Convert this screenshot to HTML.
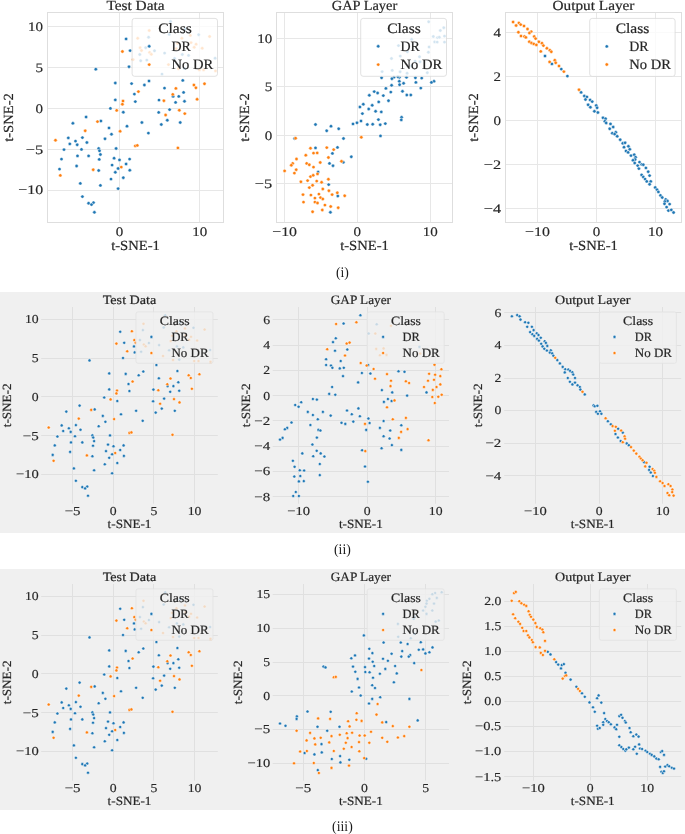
<!DOCTYPE html>
<html><head><meta charset="utf-8"><title>t-SNE</title>
<style>
html,body{margin:0;padding:0;background:#fff;}
body{width:685px;height:834px;position:relative;overflow:hidden;font-family:"Liberation Serif",serif;}
svg text{font-family:"Liberation Serif",serif;text-rendering:geometricPrecision;}
</style></head><body>
<svg width="685" height="834" viewBox="0 0 685 834" style="position:absolute;left:0;top:0;will-change:transform">
<rect x="0" y="0" width="685" height="834" fill="#ffffff"/>
<rect x="0" y="292" width="685" height="241" fill="#f0f0f0"/>
<rect x="0" y="569" width="685" height="241" fill="#f0f0f0"/>
<clipPath id="c11"><rect x="47.5" y="12.5" width="176.0" height="210.0"/></clipPath>
<rect x="47.5" y="12.5" width="176.0" height="210.0" fill="#fff"/>
<line x1="119.50" x2="119.50" y1="12.5" y2="222.5" stroke="#e7e7e7" stroke-width="1"/>
<line x1="199.50" x2="199.50" y1="12.5" y2="222.5" stroke="#e7e7e7" stroke-width="1"/>
<line x1="47.5" x2="223.5" y1="26.50" y2="26.50" stroke="#e7e7e7" stroke-width="1"/>
<line x1="47.5" x2="223.5" y1="67.50" y2="67.50" stroke="#e7e7e7" stroke-width="1"/>
<line x1="47.5" x2="223.5" y1="108.50" y2="108.50" stroke="#e7e7e7" stroke-width="1"/>
<line x1="47.5" x2="223.5" y1="149.50" y2="149.50" stroke="#e7e7e7" stroke-width="1"/>
<line x1="47.5" x2="223.5" y1="190.50" y2="190.50" stroke="#e7e7e7" stroke-width="1"/>
<g clip-path="url(#c11)" stroke="#fff" stroke-width="0.5">
<circle cx="126.1" cy="38.9" r="1.7" fill="#1f77b4"/>
<circle cx="130.1" cy="50.6" r="1.7" fill="#1f77b4"/>
<circle cx="95.8" cy="69.2" r="1.7" fill="#1f77b4"/>
<circle cx="129.0" cy="66.7" r="1.7" fill="#1f77b4"/>
<circle cx="115.3" cy="83.0" r="1.7" fill="#1f77b4"/>
<circle cx="131.6" cy="83.6" r="1.7" fill="#1f77b4"/>
<circle cx="149.0" cy="81.0" r="1.7" fill="#1f77b4"/>
<circle cx="144.4" cy="85.0" r="1.7" fill="#1f77b4"/>
<circle cx="182.8" cy="80.4" r="1.7" fill="#1f77b4"/>
<circle cx="164.5" cy="88.1" r="1.7" fill="#1f77b4"/>
<circle cx="134.4" cy="94.1" r="1.7" fill="#1f77b4"/>
<circle cx="115.3" cy="99.9" r="1.7" fill="#1f77b4"/>
<circle cx="135.3" cy="101.6" r="1.7" fill="#1f77b4"/>
<circle cx="110.4" cy="108.4" r="1.7" fill="#1f77b4"/>
<circle cx="123.3" cy="112.2" r="1.7" fill="#1f77b4"/>
<circle cx="159.0" cy="100.1" r="1.7" fill="#1f77b4"/>
<circle cx="173.1" cy="96.4" r="1.7" fill="#1f77b4"/>
<circle cx="178.8" cy="96.4" r="1.7" fill="#1f77b4"/>
<circle cx="183.6" cy="92.4" r="1.7" fill="#1f77b4"/>
<circle cx="175.6" cy="102.4" r="1.7" fill="#1f77b4"/>
<circle cx="184.5" cy="101.3" r="1.7" fill="#1f77b4"/>
<circle cx="158.7" cy="112.4" r="1.7" fill="#1f77b4"/>
<circle cx="169.6" cy="109.6" r="1.7" fill="#1f77b4"/>
<circle cx="167.3" cy="120.2" r="1.7" fill="#1f77b4"/>
<circle cx="161.3" cy="124.5" r="1.7" fill="#1f77b4"/>
<circle cx="180.2" cy="122.5" r="1.7" fill="#1f77b4"/>
<circle cx="86.1" cy="117.0" r="1.7" fill="#1f77b4"/>
<circle cx="100.9" cy="121.0" r="1.7" fill="#1f77b4"/>
<circle cx="72.9" cy="123.3" r="1.7" fill="#1f77b4"/>
<circle cx="141.9" cy="122.5" r="1.7" fill="#1f77b4"/>
<circle cx="127.0" cy="126.2" r="1.7" fill="#1f77b4"/>
<circle cx="109.0" cy="127.9" r="1.7" fill="#1f77b4"/>
<circle cx="148.4" cy="133.1" r="1.7" fill="#1f77b4"/>
<circle cx="111.5" cy="134.2" r="1.7" fill="#1f77b4"/>
<circle cx="105.0" cy="138.8" r="1.7" fill="#1f77b4"/>
<circle cx="68.3" cy="137.9" r="1.7" fill="#1f77b4"/>
<circle cx="82.4" cy="137.6" r="1.7" fill="#1f77b4"/>
<circle cx="75.5" cy="141.1" r="1.7" fill="#1f77b4"/>
<circle cx="69.8" cy="143.9" r="1.7" fill="#1f77b4"/>
<circle cx="77.2" cy="144.8" r="1.7" fill="#1f77b4"/>
<circle cx="86.9" cy="142.5" r="1.7" fill="#1f77b4"/>
<circle cx="64.0" cy="149.6" r="1.7" fill="#1f77b4"/>
<circle cx="81.5" cy="149.4" r="1.7" fill="#1f77b4"/>
<circle cx="98.7" cy="148.5" r="1.7" fill="#1f77b4"/>
<circle cx="116.1" cy="148.5" r="1.7" fill="#1f77b4"/>
<circle cx="99.5" cy="150.8" r="1.7" fill="#1f77b4"/>
<circle cx="100.4" cy="154.5" r="1.7" fill="#1f77b4"/>
<circle cx="77.5" cy="155.9" r="1.7" fill="#1f77b4"/>
<circle cx="88.6" cy="155.9" r="1.7" fill="#1f77b4"/>
<circle cx="61.5" cy="159.1" r="1.7" fill="#1f77b4"/>
<circle cx="99.2" cy="159.4" r="1.7" fill="#1f77b4"/>
<circle cx="114.1" cy="158.2" r="1.7" fill="#1f77b4"/>
<circle cx="119.5" cy="159.9" r="1.7" fill="#1f77b4"/>
<circle cx="129.6" cy="159.1" r="1.7" fill="#1f77b4"/>
<circle cx="126.1" cy="164.0" r="1.7" fill="#1f77b4"/>
<circle cx="112.1" cy="165.1" r="1.7" fill="#1f77b4"/>
<circle cx="76.6" cy="166.0" r="1.7" fill="#1f77b4"/>
<circle cx="59.5" cy="169.1" r="1.7" fill="#1f77b4"/>
<circle cx="98.7" cy="170.5" r="1.7" fill="#1f77b4"/>
<circle cx="118.1" cy="168.5" r="1.7" fill="#1f77b4"/>
<circle cx="129.8" cy="170.2" r="1.7" fill="#1f77b4"/>
<circle cx="115.3" cy="172.3" r="1.7" fill="#1f77b4"/>
<circle cx="123.3" cy="177.7" r="1.7" fill="#1f77b4"/>
<circle cx="111.0" cy="179.1" r="1.7" fill="#1f77b4"/>
<circle cx="80.3" cy="183.4" r="1.7" fill="#1f77b4"/>
<circle cx="100.4" cy="185.4" r="1.7" fill="#1f77b4"/>
<circle cx="118.1" cy="188.6" r="1.7" fill="#1f77b4"/>
<circle cx="82.4" cy="196.6" r="1.7" fill="#1f77b4"/>
<circle cx="88.6" cy="203.2" r="1.7" fill="#1f77b4"/>
<circle cx="93.5" cy="202.6" r="1.7" fill="#1f77b4"/>
<circle cx="91.5" cy="204.6" r="1.7" fill="#1f77b4"/>
<circle cx="94.4" cy="212.3" r="1.7" fill="#1f77b4"/>
<circle cx="170.6" cy="21.5" r="1.7" fill="#1f77b4"/>
<circle cx="185.4" cy="28.8" r="1.7" fill="#1f77b4"/>
<circle cx="169.2" cy="34.4" r="1.7" fill="#1f77b4"/>
<circle cx="148.6" cy="37.2" r="1.7" fill="#1f77b4"/>
<circle cx="198.7" cy="34.7" r="1.7" fill="#1f77b4"/>
<circle cx="145.7" cy="47.7" r="1.7" fill="#1f77b4"/>
<circle cx="139.8" cy="54.5" r="1.7" fill="#1f77b4"/>
<circle cx="154.5" cy="50.8" r="1.7" fill="#1f77b4"/>
<circle cx="164.6" cy="53.1" r="1.7" fill="#1f77b4"/>
<circle cx="182.3" cy="54.5" r="1.7" fill="#1f77b4"/>
<circle cx="188.6" cy="55.4" r="1.7" fill="#1f77b4"/>
<circle cx="174.6" cy="58.5" r="1.7" fill="#1f77b4"/>
<circle cx="140.7" cy="60.8" r="1.7" fill="#1f77b4"/>
<circle cx="146.8" cy="60.1" r="1.7" fill="#1f77b4"/>
<circle cx="215.1" cy="58.2" r="1.7" fill="#1f77b4"/>
<circle cx="162.0" cy="74.1" r="1.7" fill="#1f77b4"/>
<circle cx="184.5" cy="68.4" r="1.7" fill="#1f77b4"/>
<circle cx="122.4" cy="51.5" r="1.7" fill="#ff7f0e"/>
<circle cx="138.4" cy="91.6" r="1.7" fill="#ff7f0e"/>
<circle cx="123.0" cy="101.0" r="1.7" fill="#ff7f0e"/>
<circle cx="122.4" cy="104.2" r="1.7" fill="#ff7f0e"/>
<circle cx="116.7" cy="110.4" r="1.7" fill="#ff7f0e"/>
<circle cx="97.5" cy="121.6" r="1.7" fill="#ff7f0e"/>
<circle cx="85.2" cy="130.8" r="1.7" fill="#ff7f0e"/>
<circle cx="120.1" cy="131.3" r="1.7" fill="#ff7f0e"/>
<circle cx="55.5" cy="140.2" r="1.7" fill="#ff7f0e"/>
<circle cx="135.3" cy="145.9" r="1.7" fill="#ff7f0e"/>
<circle cx="137.3" cy="145.4" r="1.7" fill="#ff7f0e"/>
<circle cx="177.9" cy="147.9" r="1.7" fill="#ff7f0e"/>
<circle cx="121.3" cy="167.1" r="1.7" fill="#ff7f0e"/>
<circle cx="93.2" cy="169.7" r="1.7" fill="#ff7f0e"/>
<circle cx="60.3" cy="175.4" r="1.7" fill="#ff7f0e"/>
<circle cx="175.9" cy="88.4" r="1.7" fill="#ff7f0e"/>
<circle cx="172.8" cy="94.4" r="1.7" fill="#ff7f0e"/>
<circle cx="193.9" cy="85.0" r="1.7" fill="#ff7f0e"/>
<circle cx="195.9" cy="87.8" r="1.7" fill="#ff7f0e"/>
<circle cx="204.5" cy="83.8" r="1.7" fill="#ff7f0e"/>
<circle cx="197.1" cy="99.3" r="1.7" fill="#ff7f0e"/>
<circle cx="163.9" cy="100.7" r="1.7" fill="#ff7f0e"/>
<circle cx="179.3" cy="110.2" r="1.7" fill="#ff7f0e"/>
<circle cx="184.8" cy="113.6" r="1.7" fill="#ff7f0e"/>
<circle cx="165.6" cy="115.0" r="1.7" fill="#ff7f0e"/>
<circle cx="149.2" cy="30.5" r="1.7" fill="#ff7f0e"/>
<circle cx="137.7" cy="38.3" r="1.7" fill="#ff7f0e"/>
<circle cx="140.1" cy="47.7" r="1.7" fill="#ff7f0e"/>
<circle cx="141.5" cy="50.5" r="1.7" fill="#ff7f0e"/>
<circle cx="149.6" cy="52.4" r="1.7" fill="#ff7f0e"/>
<circle cx="151.3" cy="54.3" r="1.7" fill="#ff7f0e"/>
<circle cx="133.1" cy="59.6" r="1.7" fill="#ff7f0e"/>
<circle cx="168.5" cy="64.6" r="1.7" fill="#ff7f0e"/>
<circle cx="178.4" cy="68.8" r="1.7" fill="#ff7f0e"/>
<circle cx="181.9" cy="38.3" r="1.7" fill="#ff7f0e"/>
<circle cx="190.3" cy="35.4" r="1.7" fill="#ff7f0e"/>
<circle cx="191.0" cy="42.6" r="1.7" fill="#ff7f0e"/>
<circle cx="196.1" cy="44.2" r="1.7" fill="#ff7f0e"/>
<circle cx="194.2" cy="47.3" r="1.7" fill="#ff7f0e"/>
<circle cx="202.2" cy="48.2" r="1.7" fill="#ff7f0e"/>
<circle cx="209.6" cy="36.5" r="1.7" fill="#ff7f0e"/>
<circle cx="199.4" cy="69.9" r="1.7" fill="#ff7f0e"/>
<circle cx="203.6" cy="69.9" r="1.7" fill="#ff7f0e"/>
<circle cx="215.5" cy="70.9" r="1.7" fill="#ff7f0e"/>
<circle cx="176.1" cy="48.7" r="1.7" fill="#ff7f0e"/>
<circle cx="177.5" cy="43.2" r="1.7" fill="#ff7f0e"/>
</g>
<rect x="47.5" y="12.5" width="176.0" height="210.0" fill="none" stroke="#dedede" stroke-width="1"/>
<rect x="132.1" y="18.4" width="85.4" height="57.9" rx="2.5" fill="#ffffff" fill-opacity="0.8" stroke="#d9d9d9" stroke-opacity="0.8" stroke-width="1"/>
<circle cx="149.2" cy="46.3" r="1.7" fill="#1f77b4" stroke="#fff" stroke-width="0.5"/>
<circle cx="149.2" cy="64.6" r="1.7" fill="#ff7f0e" stroke="#fff" stroke-width="0.5"/>
<text transform="translate(175.00,32.80)" x="-16.85" y="0" textLength="33.71" lengthAdjust="spacingAndGlyphs" font-size="14.32" fill="#262626" stroke="#262626" stroke-width="0.2">Class</text>
<text transform="translate(171.50,50.60)" x="0.00" y="0" textLength="19.36" lengthAdjust="spacingAndGlyphs" font-size="14.32" fill="#262626" stroke="#262626" stroke-width="0.2">DR</text>
<text transform="translate(171.50,68.90)" x="0.00" y="0" textLength="41.70" lengthAdjust="spacingAndGlyphs" font-size="14.32" fill="#262626" stroke="#262626" stroke-width="0.2">No DR</text>
<text transform="translate(119.40,235.50)" x="-3.75" y="0" textLength="7.51" lengthAdjust="spacingAndGlyphs" font-size="13.00" fill="#262626" stroke="#262626" stroke-width="0.15">0</text>
<text transform="translate(199.70,235.50)" x="-7.51" y="0" textLength="15.02" lengthAdjust="spacingAndGlyphs" font-size="13.00" fill="#262626" stroke="#262626" stroke-width="0.15">10</text>
<text transform="translate(43.10,30.70)" x="-15.02" y="0" textLength="15.02" lengthAdjust="spacingAndGlyphs" font-size="13.00" fill="#262626" stroke="#262626" stroke-width="0.15">10</text>
<text transform="translate(43.10,71.90)" x="-7.51" y="0" textLength="7.51" lengthAdjust="spacingAndGlyphs" font-size="13.00" fill="#262626" stroke="#262626" stroke-width="0.15">5</text>
<text transform="translate(43.10,112.80)" x="-7.51" y="0" textLength="7.51" lengthAdjust="spacingAndGlyphs" font-size="13.00" fill="#262626" stroke="#262626" stroke-width="0.15">0</text>
<text transform="translate(43.10,153.80)" x="-17.40" y="0" textLength="17.40" lengthAdjust="spacingAndGlyphs" font-size="13.00" fill="#262626" stroke="#262626" stroke-width="0.15">−5</text>
<text transform="translate(43.10,194.40)" x="-24.90" y="0" textLength="24.90" lengthAdjust="spacingAndGlyphs" font-size="13.00" fill="#262626" stroke="#262626" stroke-width="0.15">−10</text>
<text transform="translate(135.50,249.60)" x="-24.34" y="0" textLength="48.67" lengthAdjust="spacingAndGlyphs" font-size="13.91" fill="#262626" stroke="#262626" stroke-width="0.2">t-SNE-1</text>
<text transform="translate(12.90,117.50) rotate(-90)" x="-24.34" y="0" textLength="48.67" lengthAdjust="spacingAndGlyphs" font-size="13.91" fill="#262626" stroke="#262626" stroke-width="0.2">t-SNE-2</text>
<text transform="translate(135.50,9.70)" x="-29.10" y="0" textLength="58.20" lengthAdjust="spacingAndGlyphs" font-size="13.91" fill="#262626" stroke="#262626" stroke-width="0.2">Test Data</text>
<clipPath id="c12"><rect x="276.5" y="12.5" width="176.0" height="210.0"/></clipPath>
<rect x="276.5" y="12.5" width="176.0" height="210.0" fill="#fff"/>
<line x1="284.50" x2="284.50" y1="12.5" y2="222.5" stroke="#e7e7e7" stroke-width="1"/>
<line x1="357.50" x2="357.50" y1="12.5" y2="222.5" stroke="#e7e7e7" stroke-width="1"/>
<line x1="430.50" x2="430.50" y1="12.5" y2="222.5" stroke="#e7e7e7" stroke-width="1"/>
<line x1="276.5" x2="452.5" y1="38.50" y2="38.50" stroke="#e7e7e7" stroke-width="1"/>
<line x1="276.5" x2="452.5" y1="86.50" y2="86.50" stroke="#e7e7e7" stroke-width="1"/>
<line x1="276.5" x2="452.5" y1="135.50" y2="135.50" stroke="#e7e7e7" stroke-width="1"/>
<line x1="276.5" x2="452.5" y1="183.50" y2="183.50" stroke="#e7e7e7" stroke-width="1"/>
<g clip-path="url(#c12)" stroke="#fff" stroke-width="0.5">
<circle cx="434.0" cy="81.3" r="1.7" fill="#1f77b4"/>
<circle cx="431.4" cy="82.4" r="1.7" fill="#1f77b4"/>
<circle cx="421.7" cy="78.1" r="1.7" fill="#1f77b4"/>
<circle cx="415.4" cy="77.8" r="1.7" fill="#1f77b4"/>
<circle cx="406.5" cy="77.3" r="1.7" fill="#1f77b4"/>
<circle cx="399.3" cy="77.3" r="1.7" fill="#1f77b4"/>
<circle cx="397.9" cy="76.7" r="1.7" fill="#1f77b4"/>
<circle cx="393.9" cy="77.3" r="1.7" fill="#1f77b4"/>
<circle cx="391.9" cy="78.7" r="1.7" fill="#1f77b4"/>
<circle cx="381.6" cy="77.8" r="1.7" fill="#1f77b4"/>
<circle cx="415.9" cy="82.4" r="1.7" fill="#1f77b4"/>
<circle cx="420.8" cy="88.1" r="1.7" fill="#1f77b4"/>
<circle cx="399.3" cy="81.3" r="1.7" fill="#1f77b4"/>
<circle cx="399.6" cy="84.7" r="1.7" fill="#1f77b4"/>
<circle cx="403.6" cy="83.3" r="1.7" fill="#1f77b4"/>
<circle cx="391.6" cy="85.3" r="1.7" fill="#1f77b4"/>
<circle cx="385.9" cy="88.4" r="1.7" fill="#1f77b4"/>
<circle cx="374.2" cy="91.6" r="1.7" fill="#1f77b4"/>
<circle cx="377.6" cy="93.0" r="1.7" fill="#1f77b4"/>
<circle cx="369.3" cy="95.3" r="1.7" fill="#1f77b4"/>
<circle cx="390.8" cy="92.1" r="1.7" fill="#1f77b4"/>
<circle cx="402.5" cy="91.3" r="1.7" fill="#1f77b4"/>
<circle cx="406.8" cy="95.0" r="1.7" fill="#1f77b4"/>
<circle cx="410.8" cy="95.0" r="1.7" fill="#1f77b4"/>
<circle cx="383.3" cy="95.6" r="1.7" fill="#1f77b4"/>
<circle cx="388.5" cy="100.7" r="1.7" fill="#1f77b4"/>
<circle cx="378.7" cy="101.9" r="1.7" fill="#1f77b4"/>
<circle cx="363.3" cy="104.2" r="1.7" fill="#1f77b4"/>
<circle cx="359.9" cy="107.0" r="1.7" fill="#1f77b4"/>
<circle cx="372.2" cy="105.3" r="1.7" fill="#1f77b4"/>
<circle cx="368.7" cy="109.0" r="1.7" fill="#1f77b4"/>
<circle cx="362.4" cy="113.6" r="1.7" fill="#1f77b4"/>
<circle cx="375.6" cy="111.3" r="1.7" fill="#1f77b4"/>
<circle cx="381.3" cy="111.9" r="1.7" fill="#1f77b4"/>
<circle cx="378.4" cy="119.6" r="1.7" fill="#1f77b4"/>
<circle cx="401.6" cy="117.3" r="1.7" fill="#1f77b4"/>
<circle cx="401.3" cy="119.9" r="1.7" fill="#1f77b4"/>
<circle cx="353.0" cy="123.9" r="1.7" fill="#1f77b4"/>
<circle cx="357.0" cy="122.8" r="1.7" fill="#1f77b4"/>
<circle cx="361.0" cy="121.0" r="1.7" fill="#1f77b4"/>
<circle cx="367.3" cy="124.5" r="1.7" fill="#1f77b4"/>
<circle cx="372.7" cy="124.2" r="1.7" fill="#1f77b4"/>
<circle cx="380.2" cy="124.8" r="1.7" fill="#1f77b4"/>
<circle cx="385.3" cy="123.6" r="1.7" fill="#1f77b4"/>
<circle cx="315.5" cy="124.5" r="1.7" fill="#1f77b4"/>
<circle cx="331.0" cy="126.2" r="1.7" fill="#1f77b4"/>
<circle cx="338.7" cy="128.8" r="1.7" fill="#1f77b4"/>
<circle cx="326.7" cy="130.8" r="1.7" fill="#1f77b4"/>
<circle cx="380.5" cy="135.9" r="1.7" fill="#1f77b4"/>
<circle cx="343.5" cy="138.5" r="1.7" fill="#1f77b4"/>
<circle cx="294.6" cy="138.5" r="1.7" fill="#1f77b4"/>
<circle cx="315.5" cy="147.9" r="1.7" fill="#1f77b4"/>
<circle cx="337.5" cy="147.4" r="1.7" fill="#1f77b4"/>
<circle cx="332.4" cy="153.4" r="1.7" fill="#1f77b4"/>
<circle cx="351.3" cy="156.8" r="1.7" fill="#1f77b4"/>
<circle cx="343.3" cy="162.2" r="1.7" fill="#1f77b4"/>
<circle cx="329.5" cy="163.4" r="1.7" fill="#1f77b4"/>
<circle cx="333.0" cy="165.7" r="1.7" fill="#1f77b4"/>
<circle cx="318.1" cy="172.0" r="1.7" fill="#1f77b4"/>
<circle cx="328.7" cy="184.6" r="1.7" fill="#1f77b4"/>
<circle cx="337.8" cy="196.0" r="1.7" fill="#1f77b4"/>
<circle cx="330.4" cy="212.3" r="1.7" fill="#1f77b4"/>
<circle cx="428.7" cy="21.8" r="1.7" fill="#1f77b4"/>
<circle cx="443.8" cy="27.7" r="1.7" fill="#1f77b4"/>
<circle cx="440.3" cy="30.5" r="1.7" fill="#1f77b4"/>
<circle cx="433.3" cy="36.5" r="1.7" fill="#1f77b4"/>
<circle cx="437.5" cy="37.6" r="1.7" fill="#1f77b4"/>
<circle cx="439.3" cy="37.2" r="1.7" fill="#1f77b4"/>
<circle cx="444.5" cy="36.1" r="1.7" fill="#1f77b4"/>
<circle cx="434.7" cy="41.9" r="1.7" fill="#1f77b4"/>
<circle cx="437.2" cy="42.1" r="1.7" fill="#1f77b4"/>
<circle cx="444.5" cy="42.1" r="1.7" fill="#1f77b4"/>
<circle cx="411.6" cy="39.3" r="1.7" fill="#1f77b4"/>
<circle cx="398.5" cy="45.6" r="1.7" fill="#1f77b4"/>
<circle cx="429.1" cy="47.0" r="1.7" fill="#1f77b4"/>
<circle cx="407.4" cy="51.7" r="1.7" fill="#1f77b4"/>
<circle cx="428.4" cy="52.2" r="1.7" fill="#1f77b4"/>
<circle cx="400.3" cy="56.1" r="1.7" fill="#1f77b4"/>
<circle cx="419.5" cy="56.8" r="1.7" fill="#1f77b4"/>
<circle cx="391.5" cy="58.5" r="1.7" fill="#1f77b4"/>
<circle cx="415.1" cy="61.1" r="1.7" fill="#1f77b4"/>
<circle cx="420.0" cy="61.8" r="1.7" fill="#1f77b4"/>
<circle cx="411.6" cy="66.0" r="1.7" fill="#1f77b4"/>
<circle cx="392.2" cy="70.4" r="1.7" fill="#1f77b4"/>
<circle cx="382.1" cy="71.6" r="1.7" fill="#1f77b4"/>
<circle cx="400.1" cy="71.8" r="1.7" fill="#1f77b4"/>
<circle cx="407.1" cy="73.2" r="1.7" fill="#1f77b4"/>
<circle cx="427.3" cy="72.7" r="1.7" fill="#1f77b4"/>
<circle cx="295.6" cy="138.2" r="1.7" fill="#ff7f0e"/>
<circle cx="361.3" cy="137.3" r="1.7" fill="#ff7f0e"/>
<circle cx="310.5" cy="148.2" r="1.7" fill="#ff7f0e"/>
<circle cx="326.8" cy="147.6" r="1.7" fill="#ff7f0e"/>
<circle cx="333.7" cy="149.6" r="1.7" fill="#ff7f0e"/>
<circle cx="305.8" cy="155.2" r="1.7" fill="#ff7f0e"/>
<circle cx="313.5" cy="153.1" r="1.7" fill="#ff7f0e"/>
<circle cx="317.2" cy="152.9" r="1.7" fill="#ff7f0e"/>
<circle cx="328.4" cy="157.5" r="1.7" fill="#ff7f0e"/>
<circle cx="296.5" cy="159.0" r="1.7" fill="#ff7f0e"/>
<circle cx="292.7" cy="163.4" r="1.7" fill="#ff7f0e"/>
<circle cx="291.3" cy="165.2" r="1.7" fill="#ff7f0e"/>
<circle cx="306.7" cy="163.4" r="1.7" fill="#ff7f0e"/>
<circle cx="309.3" cy="164.8" r="1.7" fill="#ff7f0e"/>
<circle cx="320.2" cy="162.5" r="1.7" fill="#ff7f0e"/>
<circle cx="313.5" cy="167.1" r="1.7" fill="#ff7f0e"/>
<circle cx="341.5" cy="161.3" r="1.7" fill="#ff7f0e"/>
<circle cx="284.6" cy="170.9" r="1.7" fill="#ff7f0e"/>
<circle cx="296.2" cy="169.7" r="1.7" fill="#ff7f0e"/>
<circle cx="294.4" cy="173.1" r="1.7" fill="#ff7f0e"/>
<circle cx="317.5" cy="173.9" r="1.7" fill="#ff7f0e"/>
<circle cx="310.5" cy="176.6" r="1.7" fill="#ff7f0e"/>
<circle cx="313.2" cy="175.3" r="1.7" fill="#ff7f0e"/>
<circle cx="328.4" cy="179.2" r="1.7" fill="#ff7f0e"/>
<circle cx="300.9" cy="181.8" r="1.7" fill="#ff7f0e"/>
<circle cx="307.6" cy="180.6" r="1.7" fill="#ff7f0e"/>
<circle cx="316.7" cy="181.1" r="1.7" fill="#ff7f0e"/>
<circle cx="321.6" cy="182.3" r="1.7" fill="#ff7f0e"/>
<circle cx="312.6" cy="185.3" r="1.7" fill="#ff7f0e"/>
<circle cx="309.3" cy="187.6" r="1.7" fill="#ff7f0e"/>
<circle cx="322.8" cy="189.0" r="1.7" fill="#ff7f0e"/>
<circle cx="328.9" cy="190.7" r="1.7" fill="#ff7f0e"/>
<circle cx="303.0" cy="194.6" r="1.7" fill="#ff7f0e"/>
<circle cx="310.9" cy="195.1" r="1.7" fill="#ff7f0e"/>
<circle cx="318.9" cy="194.1" r="1.7" fill="#ff7f0e"/>
<circle cx="332.1" cy="194.6" r="1.7" fill="#ff7f0e"/>
<circle cx="337.3" cy="192.8" r="1.7" fill="#ff7f0e"/>
<circle cx="344.7" cy="195.8" r="1.7" fill="#ff7f0e"/>
<circle cx="314.9" cy="198.1" r="1.7" fill="#ff7f0e"/>
<circle cx="320.5" cy="197.6" r="1.7" fill="#ff7f0e"/>
<circle cx="322.8" cy="199.0" r="1.7" fill="#ff7f0e"/>
<circle cx="303.5" cy="202.1" r="1.7" fill="#ff7f0e"/>
<circle cx="314.9" cy="202.1" r="1.7" fill="#ff7f0e"/>
<circle cx="317.5" cy="203.0" r="1.7" fill="#ff7f0e"/>
<circle cx="324.9" cy="205.1" r="1.7" fill="#ff7f0e"/>
<circle cx="330.7" cy="206.5" r="1.7" fill="#ff7f0e"/>
<circle cx="338.2" cy="207.7" r="1.7" fill="#ff7f0e"/>
<circle cx="312.6" cy="211.8" r="1.7" fill="#ff7f0e"/>
<circle cx="322.3" cy="210.0" r="1.7" fill="#ff7f0e"/>
</g>
<rect x="276.5" y="12.5" width="176.0" height="210.0" fill="none" stroke="#dedede" stroke-width="1"/>
<rect x="360.7" y="18.4" width="85.80000000000001" height="57.9" rx="2.5" fill="#ffffff" fill-opacity="0.8" stroke="#d9d9d9" stroke-opacity="0.8" stroke-width="1"/>
<circle cx="378.2" cy="46.3" r="1.7" fill="#1f77b4" stroke="#fff" stroke-width="0.5"/>
<circle cx="378.2" cy="64.6" r="1.7" fill="#ff7f0e" stroke="#fff" stroke-width="0.5"/>
<text transform="translate(404.00,32.80)" x="-16.85" y="0" textLength="33.71" lengthAdjust="spacingAndGlyphs" font-size="14.32" fill="#262626" stroke="#262626" stroke-width="0.2">Class</text>
<text transform="translate(400.50,50.60)" x="0.00" y="0" textLength="19.36" lengthAdjust="spacingAndGlyphs" font-size="14.32" fill="#262626" stroke="#262626" stroke-width="0.2">DR</text>
<text transform="translate(400.50,68.90)" x="0.00" y="0" textLength="41.70" lengthAdjust="spacingAndGlyphs" font-size="14.32" fill="#262626" stroke="#262626" stroke-width="0.2">No DR</text>
<text transform="translate(284.60,235.50)" x="-12.45" y="0" textLength="24.90" lengthAdjust="spacingAndGlyphs" font-size="13.00" fill="#262626" stroke="#262626" stroke-width="0.15">−10</text>
<text transform="translate(357.30,235.50)" x="-3.75" y="0" textLength="7.51" lengthAdjust="spacingAndGlyphs" font-size="13.00" fill="#262626" stroke="#262626" stroke-width="0.15">0</text>
<text transform="translate(430.20,235.50)" x="-7.51" y="0" textLength="15.02" lengthAdjust="spacingAndGlyphs" font-size="13.00" fill="#262626" stroke="#262626" stroke-width="0.15">10</text>
<text transform="translate(272.20,42.50)" x="-15.02" y="0" textLength="15.02" lengthAdjust="spacingAndGlyphs" font-size="13.00" fill="#262626" stroke="#262626" stroke-width="0.15">10</text>
<text transform="translate(272.20,90.80)" x="-7.51" y="0" textLength="7.51" lengthAdjust="spacingAndGlyphs" font-size="13.00" fill="#262626" stroke="#262626" stroke-width="0.15">5</text>
<text transform="translate(272.20,139.50)" x="-7.51" y="0" textLength="7.51" lengthAdjust="spacingAndGlyphs" font-size="13.00" fill="#262626" stroke="#262626" stroke-width="0.15">0</text>
<text transform="translate(272.20,187.80)" x="-17.40" y="0" textLength="17.40" lengthAdjust="spacingAndGlyphs" font-size="13.00" fill="#262626" stroke="#262626" stroke-width="0.15">−5</text>
<text transform="translate(364.50,249.60)" x="-24.34" y="0" textLength="48.67" lengthAdjust="spacingAndGlyphs" font-size="13.91" fill="#262626" stroke="#262626" stroke-width="0.2">t-SNE-1</text>
<text transform="translate(249.40,117.50) rotate(-90)" x="-24.34" y="0" textLength="48.67" lengthAdjust="spacingAndGlyphs" font-size="13.91" fill="#262626" stroke="#262626" stroke-width="0.2">t-SNE-2</text>
<text transform="translate(364.50,9.70)" x="-32.71" y="0" textLength="65.42" lengthAdjust="spacingAndGlyphs" font-size="13.91" fill="#262626" stroke="#262626" stroke-width="0.2">GAP Layer</text>
<clipPath id="c13"><rect x="505.5" y="12.5" width="176.0" height="210.0"/></clipPath>
<rect x="505.5" y="12.5" width="176.0" height="210.0" fill="#fff"/>
<line x1="537.50" x2="537.50" y1="12.5" y2="222.5" stroke="#e7e7e7" stroke-width="1"/>
<line x1="596.50" x2="596.50" y1="12.5" y2="222.5" stroke="#e7e7e7" stroke-width="1"/>
<line x1="655.50" x2="655.50" y1="12.5" y2="222.5" stroke="#e7e7e7" stroke-width="1"/>
<line x1="505.5" x2="681.5" y1="32.50" y2="32.50" stroke="#e7e7e7" stroke-width="1"/>
<line x1="505.5" x2="681.5" y1="76.50" y2="76.50" stroke="#e7e7e7" stroke-width="1"/>
<line x1="505.5" x2="681.5" y1="120.50" y2="120.50" stroke="#e7e7e7" stroke-width="1"/>
<line x1="505.5" x2="681.5" y1="164.50" y2="164.50" stroke="#e7e7e7" stroke-width="1"/>
<line x1="505.5" x2="681.5" y1="208.50" y2="208.50" stroke="#e7e7e7" stroke-width="1"/>
<g clip-path="url(#c13)" stroke="#fff" stroke-width="0.5">
<circle cx="545.0" cy="56.0" r="1.7" fill="#1f77b4"/>
<circle cx="551.9" cy="63.9" r="1.7" fill="#1f77b4"/>
<circle cx="561.3" cy="69.1" r="1.7" fill="#1f77b4"/>
<circle cx="567.4" cy="76.1" r="1.7" fill="#1f77b4"/>
<circle cx="581.1" cy="92.4" r="1.7" fill="#1f77b4"/>
<circle cx="584.3" cy="96.0" r="1.7" fill="#1f77b4"/>
<circle cx="586.9" cy="96.9" r="1.7" fill="#1f77b4"/>
<circle cx="585.5" cy="99.5" r="1.7" fill="#1f77b4"/>
<circle cx="590.1" cy="99.9" r="1.7" fill="#1f77b4"/>
<circle cx="592.2" cy="101.6" r="1.7" fill="#1f77b4"/>
<circle cx="588.1" cy="104.8" r="1.7" fill="#1f77b4"/>
<circle cx="590.4" cy="107.2" r="1.7" fill="#1f77b4"/>
<circle cx="596.2" cy="105.5" r="1.7" fill="#1f77b4"/>
<circle cx="597.1" cy="107.8" r="1.7" fill="#1f77b4"/>
<circle cx="594.4" cy="111.3" r="1.7" fill="#1f77b4"/>
<circle cx="597.9" cy="112.5" r="1.7" fill="#1f77b4"/>
<circle cx="603.0" cy="117.8" r="1.7" fill="#1f77b4"/>
<circle cx="605.6" cy="118.8" r="1.7" fill="#1f77b4"/>
<circle cx="604.9" cy="121.3" r="1.7" fill="#1f77b4"/>
<circle cx="606.2" cy="123.0" r="1.7" fill="#1f77b4"/>
<circle cx="610.5" cy="123.9" r="1.7" fill="#1f77b4"/>
<circle cx="613.2" cy="127.0" r="1.7" fill="#1f77b4"/>
<circle cx="609.7" cy="128.8" r="1.7" fill="#1f77b4"/>
<circle cx="612.3" cy="133.2" r="1.7" fill="#1f77b4"/>
<circle cx="615.8" cy="132.3" r="1.7" fill="#1f77b4"/>
<circle cx="614.6" cy="134.1" r="1.7" fill="#1f77b4"/>
<circle cx="617.2" cy="136.3" r="1.7" fill="#1f77b4"/>
<circle cx="620.2" cy="139.7" r="1.7" fill="#1f77b4"/>
<circle cx="622.8" cy="143.3" r="1.7" fill="#1f77b4"/>
<circle cx="625.1" cy="142.8" r="1.7" fill="#1f77b4"/>
<circle cx="624.0" cy="147.2" r="1.7" fill="#1f77b4"/>
<circle cx="628.4" cy="146.3" r="1.7" fill="#1f77b4"/>
<circle cx="629.8" cy="149.3" r="1.7" fill="#1f77b4"/>
<circle cx="626.0" cy="151.0" r="1.7" fill="#1f77b4"/>
<circle cx="628.1" cy="152.4" r="1.7" fill="#1f77b4"/>
<circle cx="631.0" cy="155.6" r="1.7" fill="#1f77b4"/>
<circle cx="634.2" cy="154.7" r="1.7" fill="#1f77b4"/>
<circle cx="635.6" cy="157.2" r="1.7" fill="#1f77b4"/>
<circle cx="635.1" cy="159.5" r="1.7" fill="#1f77b4"/>
<circle cx="633.0" cy="160.3" r="1.7" fill="#1f77b4"/>
<circle cx="634.7" cy="163.0" r="1.7" fill="#1f77b4"/>
<circle cx="639.5" cy="162.1" r="1.7" fill="#1f77b4"/>
<circle cx="641.7" cy="164.4" r="1.7" fill="#1f77b4"/>
<circle cx="643.3" cy="164.7" r="1.7" fill="#1f77b4"/>
<circle cx="637.7" cy="165.6" r="1.7" fill="#1f77b4"/>
<circle cx="638.9" cy="168.6" r="1.7" fill="#1f77b4"/>
<circle cx="645.9" cy="167.9" r="1.7" fill="#1f77b4"/>
<circle cx="648.2" cy="171.7" r="1.7" fill="#1f77b4"/>
<circle cx="649.6" cy="175.6" r="1.7" fill="#1f77b4"/>
<circle cx="641.6" cy="174.9" r="1.7" fill="#1f77b4"/>
<circle cx="643.3" cy="177.0" r="1.7" fill="#1f77b4"/>
<circle cx="645.1" cy="179.1" r="1.7" fill="#1f77b4"/>
<circle cx="646.8" cy="181.4" r="1.7" fill="#1f77b4"/>
<circle cx="650.8" cy="181.4" r="1.7" fill="#1f77b4"/>
<circle cx="649.6" cy="184.3" r="1.7" fill="#1f77b4"/>
<circle cx="655.2" cy="187.5" r="1.7" fill="#1f77b4"/>
<circle cx="657.0" cy="189.6" r="1.7" fill="#1f77b4"/>
<circle cx="658.4" cy="191.9" r="1.7" fill="#1f77b4"/>
<circle cx="660.5" cy="195.4" r="1.7" fill="#1f77b4"/>
<circle cx="662.2" cy="197.5" r="1.7" fill="#1f77b4"/>
<circle cx="665.7" cy="199.4" r="1.7" fill="#1f77b4"/>
<circle cx="667.5" cy="201.0" r="1.7" fill="#1f77b4"/>
<circle cx="664.9" cy="201.5" r="1.7" fill="#1f77b4"/>
<circle cx="664.5" cy="203.8" r="1.7" fill="#1f77b4"/>
<circle cx="669.6" cy="204.1" r="1.7" fill="#1f77b4"/>
<circle cx="666.6" cy="207.1" r="1.7" fill="#1f77b4"/>
<circle cx="668.4" cy="210.6" r="1.7" fill="#1f77b4"/>
<circle cx="671.3" cy="209.9" r="1.7" fill="#1f77b4"/>
<circle cx="673.6" cy="212.5" r="1.7" fill="#1f77b4"/>
<circle cx="513.1" cy="22.0" r="1.7" fill="#ff7f0e"/>
<circle cx="516.1" cy="25.5" r="1.7" fill="#ff7f0e"/>
<circle cx="518.9" cy="22.9" r="1.7" fill="#ff7f0e"/>
<circle cx="520.7" cy="24.6" r="1.7" fill="#ff7f0e"/>
<circle cx="524.0" cy="26.0" r="1.7" fill="#ff7f0e"/>
<circle cx="527.5" cy="29.0" r="1.7" fill="#ff7f0e"/>
<circle cx="531.2" cy="31.6" r="1.7" fill="#ff7f0e"/>
<circle cx="529.4" cy="33.0" r="1.7" fill="#ff7f0e"/>
<circle cx="534.2" cy="36.5" r="1.7" fill="#ff7f0e"/>
<circle cx="535.6" cy="38.6" r="1.7" fill="#ff7f0e"/>
<circle cx="538.9" cy="41.8" r="1.7" fill="#ff7f0e"/>
<circle cx="542.0" cy="43.2" r="1.7" fill="#ff7f0e"/>
<circle cx="543.4" cy="45.6" r="1.7" fill="#ff7f0e"/>
<circle cx="546.9" cy="48.3" r="1.7" fill="#ff7f0e"/>
<circle cx="549.9" cy="50.2" r="1.7" fill="#ff7f0e"/>
<circle cx="551.3" cy="51.8" r="1.7" fill="#ff7f0e"/>
<circle cx="518.4" cy="32.2" r="1.7" fill="#ff7f0e"/>
<circle cx="521.0" cy="36.0" r="1.7" fill="#ff7f0e"/>
<circle cx="524.5" cy="36.5" r="1.7" fill="#ff7f0e"/>
<circle cx="525.9" cy="37.4" r="1.7" fill="#ff7f0e"/>
<circle cx="529.3" cy="41.8" r="1.7" fill="#ff7f0e"/>
<circle cx="531.5" cy="43.0" r="1.7" fill="#ff7f0e"/>
<circle cx="533.8" cy="43.9" r="1.7" fill="#ff7f0e"/>
<circle cx="536.4" cy="44.9" r="1.7" fill="#ff7f0e"/>
<circle cx="540.8" cy="51.4" r="1.7" fill="#ff7f0e"/>
<circle cx="549.6" cy="61.9" r="1.7" fill="#ff7f0e"/>
<circle cx="554.8" cy="60.2" r="1.7" fill="#ff7f0e"/>
<circle cx="555.7" cy="62.8" r="1.7" fill="#ff7f0e"/>
<circle cx="559.0" cy="66.0" r="1.7" fill="#ff7f0e"/>
<circle cx="563.9" cy="71.6" r="1.7" fill="#ff7f0e"/>
<circle cx="579.0" cy="89.7" r="1.7" fill="#ff7f0e"/>
</g>
<rect x="505.5" y="12.5" width="176.0" height="210.0" fill="none" stroke="#dedede" stroke-width="1"/>
<rect x="589.7" y="18.4" width="85.39999999999998" height="58.00000000000001" rx="2.5" fill="#ffffff" fill-opacity="0.8" stroke="#d9d9d9" stroke-opacity="0.8" stroke-width="1"/>
<circle cx="606.8" cy="46.4" r="1.7" fill="#1f77b4" stroke="#fff" stroke-width="0.5"/>
<circle cx="606.8" cy="64.5" r="1.7" fill="#ff7f0e" stroke="#fff" stroke-width="0.5"/>
<text transform="translate(632.50,32.80)" x="-16.85" y="0" textLength="33.71" lengthAdjust="spacingAndGlyphs" font-size="14.32" fill="#262626" stroke="#262626" stroke-width="0.2">Class</text>
<text transform="translate(629.30,50.60)" x="0.00" y="0" textLength="19.36" lengthAdjust="spacingAndGlyphs" font-size="14.32" fill="#262626" stroke="#262626" stroke-width="0.2">DR</text>
<text transform="translate(629.30,68.90)" x="0.00" y="0" textLength="41.70" lengthAdjust="spacingAndGlyphs" font-size="14.32" fill="#262626" stroke="#262626" stroke-width="0.2">No DR</text>
<text transform="translate(537.50,235.50)" x="-12.45" y="0" textLength="24.90" lengthAdjust="spacingAndGlyphs" font-size="13.00" fill="#262626" stroke="#262626" stroke-width="0.15">−10</text>
<text transform="translate(596.60,235.50)" x="-3.75" y="0" textLength="7.51" lengthAdjust="spacingAndGlyphs" font-size="13.00" fill="#262626" stroke="#262626" stroke-width="0.15">0</text>
<text transform="translate(655.60,235.50)" x="-7.51" y="0" textLength="15.02" lengthAdjust="spacingAndGlyphs" font-size="13.00" fill="#262626" stroke="#262626" stroke-width="0.15">10</text>
<text transform="translate(501.10,37.30)" x="-7.51" y="0" textLength="7.51" lengthAdjust="spacingAndGlyphs" font-size="13.00" fill="#262626" stroke="#262626" stroke-width="0.15">4</text>
<text transform="translate(501.10,81.10)" x="-7.51" y="0" textLength="7.51" lengthAdjust="spacingAndGlyphs" font-size="13.00" fill="#262626" stroke="#262626" stroke-width="0.15">2</text>
<text transform="translate(501.10,124.90)" x="-7.51" y="0" textLength="7.51" lengthAdjust="spacingAndGlyphs" font-size="13.00" fill="#262626" stroke="#262626" stroke-width="0.15">0</text>
<text transform="translate(501.10,168.90)" x="-17.40" y="0" textLength="17.40" lengthAdjust="spacingAndGlyphs" font-size="13.00" fill="#262626" stroke="#262626" stroke-width="0.15">−2</text>
<text transform="translate(501.10,213.00)" x="-17.40" y="0" textLength="17.40" lengthAdjust="spacingAndGlyphs" font-size="13.00" fill="#262626" stroke="#262626" stroke-width="0.15">−4</text>
<text transform="translate(593.50,249.60)" x="-24.34" y="0" textLength="48.67" lengthAdjust="spacingAndGlyphs" font-size="13.91" fill="#262626" stroke="#262626" stroke-width="0.2">t-SNE-1</text>
<text transform="translate(478.00,117.50) rotate(-90)" x="-24.34" y="0" textLength="48.67" lengthAdjust="spacingAndGlyphs" font-size="13.91" fill="#262626" stroke="#262626" stroke-width="0.2">t-SNE-2</text>
<text transform="translate(593.50,9.70)" x="-40.93" y="0" textLength="81.85" lengthAdjust="spacingAndGlyphs" font-size="13.91" fill="#262626" stroke="#262626" stroke-width="0.2">Output Layer</text>
<clipPath id="c21"><rect x="41.2" y="307" width="176.60000000000002" height="196.7"/></clipPath>
<line x1="72.50" x2="72.50" y1="307" y2="503.7" stroke="#e0e0e0" stroke-width="1"/>
<line x1="113.50" x2="113.50" y1="307" y2="503.7" stroke="#e0e0e0" stroke-width="1"/>
<line x1="153.50" x2="153.50" y1="307" y2="503.7" stroke="#e0e0e0" stroke-width="1"/>
<line x1="194.50" x2="194.50" y1="307" y2="503.7" stroke="#e0e0e0" stroke-width="1"/>
<line x1="41.2" x2="217.8" y1="319.50" y2="319.50" stroke="#e0e0e0" stroke-width="1"/>
<line x1="41.2" x2="217.8" y1="358.50" y2="358.50" stroke="#e0e0e0" stroke-width="1"/>
<line x1="41.2" x2="217.8" y1="396.50" y2="396.50" stroke="#e0e0e0" stroke-width="1"/>
<line x1="41.2" x2="217.8" y1="435.50" y2="435.50" stroke="#e0e0e0" stroke-width="1"/>
<line x1="41.2" x2="217.8" y1="474.50" y2="474.50" stroke="#e0e0e0" stroke-width="1"/>
<g clip-path="url(#c21)" stroke="#fff" stroke-width="0.5">
<circle cx="120.2" cy="331.7" r="1.55" fill="#1f77b4"/>
<circle cx="124.2" cy="342.8" r="1.55" fill="#1f77b4"/>
<circle cx="89.5" cy="360.4" r="1.55" fill="#1f77b4"/>
<circle cx="123.0" cy="358.0" r="1.55" fill="#1f77b4"/>
<circle cx="109.2" cy="373.4" r="1.55" fill="#1f77b4"/>
<circle cx="125.7" cy="373.9" r="1.55" fill="#1f77b4"/>
<circle cx="143.3" cy="371.5" r="1.55" fill="#1f77b4"/>
<circle cx="138.7" cy="375.3" r="1.55" fill="#1f77b4"/>
<circle cx="177.4" cy="371.0" r="1.55" fill="#1f77b4"/>
<circle cx="158.9" cy="378.3" r="1.55" fill="#1f77b4"/>
<circle cx="128.5" cy="384.0" r="1.55" fill="#1f77b4"/>
<circle cx="109.2" cy="389.4" r="1.55" fill="#1f77b4"/>
<circle cx="129.4" cy="391.0" r="1.55" fill="#1f77b4"/>
<circle cx="104.2" cy="397.5" r="1.55" fill="#1f77b4"/>
<circle cx="117.3" cy="401.0" r="1.55" fill="#1f77b4"/>
<circle cx="153.4" cy="389.6" r="1.55" fill="#1f77b4"/>
<circle cx="167.6" cy="386.1" r="1.55" fill="#1f77b4"/>
<circle cx="173.4" cy="386.1" r="1.55" fill="#1f77b4"/>
<circle cx="178.3" cy="382.3" r="1.55" fill="#1f77b4"/>
<circle cx="170.2" cy="391.8" r="1.55" fill="#1f77b4"/>
<circle cx="179.2" cy="390.7" r="1.55" fill="#1f77b4"/>
<circle cx="153.1" cy="401.3" r="1.55" fill="#1f77b4"/>
<circle cx="164.1" cy="398.6" r="1.55" fill="#1f77b4"/>
<circle cx="161.8" cy="408.6" r="1.55" fill="#1f77b4"/>
<circle cx="155.7" cy="412.6" r="1.55" fill="#1f77b4"/>
<circle cx="174.8" cy="410.8" r="1.55" fill="#1f77b4"/>
<circle cx="79.6" cy="405.6" r="1.55" fill="#1f77b4"/>
<circle cx="94.7" cy="409.4" r="1.55" fill="#1f77b4"/>
<circle cx="66.3" cy="411.6" r="1.55" fill="#1f77b4"/>
<circle cx="136.1" cy="410.8" r="1.55" fill="#1f77b4"/>
<circle cx="121.0" cy="414.3" r="1.55" fill="#1f77b4"/>
<circle cx="102.8" cy="415.9" r="1.55" fill="#1f77b4"/>
<circle cx="142.7" cy="420.8" r="1.55" fill="#1f77b4"/>
<circle cx="105.4" cy="421.8" r="1.55" fill="#1f77b4"/>
<circle cx="98.7" cy="426.2" r="1.55" fill="#1f77b4"/>
<circle cx="61.7" cy="425.4" r="1.55" fill="#1f77b4"/>
<circle cx="75.9" cy="425.1" r="1.55" fill="#1f77b4"/>
<circle cx="68.9" cy="428.3" r="1.55" fill="#1f77b4"/>
<circle cx="63.2" cy="431.0" r="1.55" fill="#1f77b4"/>
<circle cx="70.7" cy="431.9" r="1.55" fill="#1f77b4"/>
<circle cx="80.5" cy="429.7" r="1.55" fill="#1f77b4"/>
<circle cx="57.4" cy="436.5" r="1.55" fill="#1f77b4"/>
<circle cx="75.0" cy="436.2" r="1.55" fill="#1f77b4"/>
<circle cx="92.4" cy="435.4" r="1.55" fill="#1f77b4"/>
<circle cx="110.0" cy="435.4" r="1.55" fill="#1f77b4"/>
<circle cx="93.2" cy="437.5" r="1.55" fill="#1f77b4"/>
<circle cx="94.1" cy="441.1" r="1.55" fill="#1f77b4"/>
<circle cx="71.0" cy="442.4" r="1.55" fill="#1f77b4"/>
<circle cx="82.3" cy="442.4" r="1.55" fill="#1f77b4"/>
<circle cx="54.8" cy="445.4" r="1.55" fill="#1f77b4"/>
<circle cx="93.0" cy="445.7" r="1.55" fill="#1f77b4"/>
<circle cx="108.0" cy="444.6" r="1.55" fill="#1f77b4"/>
<circle cx="113.5" cy="446.2" r="1.55" fill="#1f77b4"/>
<circle cx="123.6" cy="445.4" r="1.55" fill="#1f77b4"/>
<circle cx="120.2" cy="450.0" r="1.55" fill="#1f77b4"/>
<circle cx="106.0" cy="451.1" r="1.55" fill="#1f77b4"/>
<circle cx="70.1" cy="451.9" r="1.55" fill="#1f77b4"/>
<circle cx="52.7" cy="454.9" r="1.55" fill="#1f77b4"/>
<circle cx="92.4" cy="456.2" r="1.55" fill="#1f77b4"/>
<circle cx="112.1" cy="454.3" r="1.55" fill="#1f77b4"/>
<circle cx="123.9" cy="455.9" r="1.55" fill="#1f77b4"/>
<circle cx="109.2" cy="457.8" r="1.55" fill="#1f77b4"/>
<circle cx="117.3" cy="463.0" r="1.55" fill="#1f77b4"/>
<circle cx="104.8" cy="464.3" r="1.55" fill="#1f77b4"/>
<circle cx="73.9" cy="468.4" r="1.55" fill="#1f77b4"/>
<circle cx="94.1" cy="470.3" r="1.55" fill="#1f77b4"/>
<circle cx="112.1" cy="473.3" r="1.55" fill="#1f77b4"/>
<circle cx="75.9" cy="480.8" r="1.55" fill="#1f77b4"/>
<circle cx="82.3" cy="487.1" r="1.55" fill="#1f77b4"/>
<circle cx="87.2" cy="486.5" r="1.55" fill="#1f77b4"/>
<circle cx="85.1" cy="488.4" r="1.55" fill="#1f77b4"/>
<circle cx="88.0" cy="495.7" r="1.55" fill="#1f77b4"/>
<circle cx="165.2" cy="315.3" r="1.55" fill="#1f77b4"/>
<circle cx="180.0" cy="322.2" r="1.55" fill="#1f77b4"/>
<circle cx="163.7" cy="327.5" r="1.55" fill="#1f77b4"/>
<circle cx="142.9" cy="330.1" r="1.55" fill="#1f77b4"/>
<circle cx="193.5" cy="327.8" r="1.55" fill="#1f77b4"/>
<circle cx="139.9" cy="340.1" r="1.55" fill="#1f77b4"/>
<circle cx="134.0" cy="346.4" r="1.55" fill="#1f77b4"/>
<circle cx="148.9" cy="343.0" r="1.55" fill="#1f77b4"/>
<circle cx="159.1" cy="345.1" r="1.55" fill="#1f77b4"/>
<circle cx="176.9" cy="346.4" r="1.55" fill="#1f77b4"/>
<circle cx="183.3" cy="347.4" r="1.55" fill="#1f77b4"/>
<circle cx="169.1" cy="350.3" r="1.55" fill="#1f77b4"/>
<circle cx="134.8" cy="352.4" r="1.55" fill="#1f77b4"/>
<circle cx="141.1" cy="351.7" r="1.55" fill="#1f77b4"/>
<circle cx="210.1" cy="350.0" r="1.55" fill="#1f77b4"/>
<circle cx="156.4" cy="365.0" r="1.55" fill="#1f77b4"/>
<circle cx="179.2" cy="359.6" r="1.55" fill="#1f77b4"/>
<circle cx="116.4" cy="343.6" r="1.55" fill="#ff7f0e"/>
<circle cx="132.6" cy="381.5" r="1.55" fill="#ff7f0e"/>
<circle cx="117.0" cy="390.5" r="1.55" fill="#ff7f0e"/>
<circle cx="116.4" cy="393.4" r="1.55" fill="#ff7f0e"/>
<circle cx="110.6" cy="399.4" r="1.55" fill="#ff7f0e"/>
<circle cx="91.2" cy="409.9" r="1.55" fill="#ff7f0e"/>
<circle cx="78.8" cy="418.6" r="1.55" fill="#ff7f0e"/>
<circle cx="114.1" cy="419.1" r="1.55" fill="#ff7f0e"/>
<circle cx="48.7" cy="427.5" r="1.55" fill="#ff7f0e"/>
<circle cx="129.4" cy="432.9" r="1.55" fill="#ff7f0e"/>
<circle cx="131.4" cy="432.4" r="1.55" fill="#ff7f0e"/>
<circle cx="172.5" cy="434.8" r="1.55" fill="#ff7f0e"/>
<circle cx="115.2" cy="453.0" r="1.55" fill="#ff7f0e"/>
<circle cx="86.9" cy="455.4" r="1.55" fill="#ff7f0e"/>
<circle cx="53.6" cy="460.8" r="1.55" fill="#ff7f0e"/>
<circle cx="170.5" cy="378.5" r="1.55" fill="#ff7f0e"/>
<circle cx="167.3" cy="384.2" r="1.55" fill="#ff7f0e"/>
<circle cx="188.7" cy="375.3" r="1.55" fill="#ff7f0e"/>
<circle cx="190.8" cy="378.0" r="1.55" fill="#ff7f0e"/>
<circle cx="199.4" cy="374.2" r="1.55" fill="#ff7f0e"/>
<circle cx="191.9" cy="388.8" r="1.55" fill="#ff7f0e"/>
<circle cx="158.3" cy="390.2" r="1.55" fill="#ff7f0e"/>
<circle cx="174.0" cy="399.1" r="1.55" fill="#ff7f0e"/>
<circle cx="179.5" cy="402.4" r="1.55" fill="#ff7f0e"/>
<circle cx="160.1" cy="403.7" r="1.55" fill="#ff7f0e"/>
<circle cx="143.5" cy="323.8" r="1.55" fill="#ff7f0e"/>
<circle cx="131.9" cy="331.2" r="1.55" fill="#ff7f0e"/>
<circle cx="134.3" cy="340.1" r="1.55" fill="#ff7f0e"/>
<circle cx="135.7" cy="342.7" r="1.55" fill="#ff7f0e"/>
<circle cx="143.9" cy="344.5" r="1.55" fill="#ff7f0e"/>
<circle cx="145.6" cy="346.3" r="1.55" fill="#ff7f0e"/>
<circle cx="127.2" cy="351.3" r="1.55" fill="#ff7f0e"/>
<circle cx="163.0" cy="356.0" r="1.55" fill="#ff7f0e"/>
<circle cx="173.0" cy="360.0" r="1.55" fill="#ff7f0e"/>
<circle cx="176.5" cy="331.2" r="1.55" fill="#ff7f0e"/>
<circle cx="185.0" cy="328.4" r="1.55" fill="#ff7f0e"/>
<circle cx="185.7" cy="335.2" r="1.55" fill="#ff7f0e"/>
<circle cx="191.0" cy="336.8" r="1.55" fill="#ff7f0e"/>
<circle cx="189.0" cy="339.7" r="1.55" fill="#ff7f0e"/>
<circle cx="197.1" cy="340.5" r="1.55" fill="#ff7f0e"/>
<circle cx="204.6" cy="329.5" r="1.55" fill="#ff7f0e"/>
<circle cx="194.2" cy="361.0" r="1.55" fill="#ff7f0e"/>
<circle cx="198.5" cy="361.0" r="1.55" fill="#ff7f0e"/>
<circle cx="210.5" cy="361.9" r="1.55" fill="#ff7f0e"/>
<circle cx="170.7" cy="341.0" r="1.55" fill="#ff7f0e"/>
<circle cx="172.1" cy="335.8" r="1.55" fill="#ff7f0e"/>
</g>
<rect x="136.0" y="311.9" width="77.0" height="51.400000000000034" rx="2" fill="#f0f0f0" fill-opacity="0.8" stroke="#e2e2e2" stroke-opacity="0.8" stroke-width="1"/>
<circle cx="151.4" cy="336.9" r="1.55" fill="#1f77b4" stroke="#fff" stroke-width="0.5"/>
<circle cx="151.4" cy="353.0" r="1.55" fill="#ff7f0e" stroke="#fff" stroke-width="0.5"/>
<text transform="translate(174.70,324.60)" x="-15.03" y="0" textLength="30.05" lengthAdjust="spacingAndGlyphs" font-size="12.76" fill="#262626" stroke="#262626" stroke-width="0.2">Class</text>
<text transform="translate(171.40,340.90)" x="0.00" y="0" textLength="17.26" lengthAdjust="spacingAndGlyphs" font-size="12.76" fill="#262626" stroke="#262626" stroke-width="0.2">DR</text>
<text transform="translate(171.40,357.00)" x="0.00" y="0" textLength="37.18" lengthAdjust="spacingAndGlyphs" font-size="12.76" fill="#262626" stroke="#262626" stroke-width="0.2">No DR</text>
<text transform="translate(72.60,514.50)" x="-7.96" y="0" textLength="15.92" lengthAdjust="spacingAndGlyphs" font-size="12.20" fill="#262626" stroke="#262626" stroke-width="0.15">−5</text>
<text transform="translate(113.25,514.50)" x="-3.44" y="0" textLength="6.87" lengthAdjust="spacingAndGlyphs" font-size="12.20" fill="#262626" stroke="#262626" stroke-width="0.15">0</text>
<text transform="translate(153.90,514.50)" x="-3.44" y="0" textLength="6.87" lengthAdjust="spacingAndGlyphs" font-size="12.20" fill="#262626" stroke="#262626" stroke-width="0.15">5</text>
<text transform="translate(194.55,514.50)" x="-6.87" y="0" textLength="13.74" lengthAdjust="spacingAndGlyphs" font-size="12.20" fill="#262626" stroke="#262626" stroke-width="0.15">10</text>
<text transform="translate(38.70,323.20)" x="-13.74" y="0" textLength="13.74" lengthAdjust="spacingAndGlyphs" font-size="12.20" fill="#262626" stroke="#262626" stroke-width="0.15">10</text>
<text transform="translate(38.70,362.00)" x="-6.87" y="0" textLength="6.87" lengthAdjust="spacingAndGlyphs" font-size="12.20" fill="#262626" stroke="#262626" stroke-width="0.15">5</text>
<text transform="translate(38.70,400.75)" x="-6.87" y="0" textLength="6.87" lengthAdjust="spacingAndGlyphs" font-size="12.20" fill="#262626" stroke="#262626" stroke-width="0.15">0</text>
<text transform="translate(38.70,439.50)" x="-15.92" y="0" textLength="15.92" lengthAdjust="spacingAndGlyphs" font-size="12.20" fill="#262626" stroke="#262626" stroke-width="0.15">−5</text>
<text transform="translate(38.70,478.30)" x="-22.79" y="0" textLength="22.79" lengthAdjust="spacingAndGlyphs" font-size="12.20" fill="#262626" stroke="#262626" stroke-width="0.15">−10</text>
<text transform="translate(129.50,528.00)" x="-21.92" y="0" textLength="43.85" lengthAdjust="spacingAndGlyphs" font-size="12.54" fill="#262626" stroke="#262626" stroke-width="0.2">t-SNE-1</text>
<text transform="translate(11.00,405.35) rotate(-90)" x="-21.92" y="0" textLength="43.85" lengthAdjust="spacingAndGlyphs" font-size="12.54" fill="#262626" stroke="#262626" stroke-width="0.2">t-SNE-2</text>
<text transform="translate(129.50,303.60)" x="-26.82" y="0" textLength="53.63" lengthAdjust="spacingAndGlyphs" font-size="12.82" fill="#262626" stroke="#262626" stroke-width="0.2">Test Data</text>
<clipPath id="c22"><rect x="272.7" y="307" width="176.3" height="196.7"/></clipPath>
<line x1="298.50" x2="298.50" y1="307" y2="503.7" stroke="#e0e0e0" stroke-width="1"/>
<line x1="367.50" x2="367.50" y1="307" y2="503.7" stroke="#e0e0e0" stroke-width="1"/>
<line x1="435.50" x2="435.50" y1="307" y2="503.7" stroke="#e0e0e0" stroke-width="1"/>
<line x1="272.7" x2="449.0" y1="319.50" y2="319.50" stroke="#e0e0e0" stroke-width="1"/>
<line x1="272.7" x2="449.0" y1="345.50" y2="345.50" stroke="#e0e0e0" stroke-width="1"/>
<line x1="272.7" x2="449.0" y1="370.50" y2="370.50" stroke="#e0e0e0" stroke-width="1"/>
<line x1="272.7" x2="449.0" y1="395.50" y2="395.50" stroke="#e0e0e0" stroke-width="1"/>
<line x1="272.7" x2="449.0" y1="420.50" y2="420.50" stroke="#e0e0e0" stroke-width="1"/>
<line x1="272.7" x2="449.0" y1="446.50" y2="446.50" stroke="#e0e0e0" stroke-width="1"/>
<line x1="272.7" x2="449.0" y1="471.50" y2="471.50" stroke="#e0e0e0" stroke-width="1"/>
<line x1="272.7" x2="449.0" y1="496.50" y2="496.50" stroke="#e0e0e0" stroke-width="1"/>
<g clip-path="url(#c22)" stroke="#fff" stroke-width="0.5">
<circle cx="360.4" cy="315.2" r="1.55" fill="#1f77b4"/>
<circle cx="343.6" cy="323.5" r="1.55" fill="#1f77b4"/>
<circle cx="335.8" cy="338.3" r="1.55" fill="#1f77b4"/>
<circle cx="333.0" cy="342.1" r="1.55" fill="#1f77b4"/>
<circle cx="335.0" cy="350.7" r="1.55" fill="#1f77b4"/>
<circle cx="347.3" cy="349.5" r="1.55" fill="#1f77b4"/>
<circle cx="326.1" cy="359.2" r="1.55" fill="#1f77b4"/>
<circle cx="340.7" cy="361.0" r="1.55" fill="#1f77b4"/>
<circle cx="326.1" cy="365.0" r="1.55" fill="#1f77b4"/>
<circle cx="331.0" cy="365.5" r="1.55" fill="#1f77b4"/>
<circle cx="332.4" cy="367.8" r="1.55" fill="#1f77b4"/>
<circle cx="339.8" cy="368.4" r="1.55" fill="#1f77b4"/>
<circle cx="343.8" cy="367.8" r="1.55" fill="#1f77b4"/>
<circle cx="343.0" cy="376.1" r="1.55" fill="#1f77b4"/>
<circle cx="368.2" cy="365.0" r="1.55" fill="#1f77b4"/>
<circle cx="361.9" cy="373.0" r="1.55" fill="#1f77b4"/>
<circle cx="370.4" cy="373.5" r="1.55" fill="#1f77b4"/>
<circle cx="358.1" cy="382.4" r="1.55" fill="#1f77b4"/>
<circle cx="332.1" cy="387.0" r="1.55" fill="#1f77b4"/>
<circle cx="329.2" cy="393.9" r="1.55" fill="#1f77b4"/>
<circle cx="335.3" cy="394.7" r="1.55" fill="#1f77b4"/>
<circle cx="398.5" cy="371.3" r="1.55" fill="#1f77b4"/>
<circle cx="404.5" cy="371.8" r="1.55" fill="#1f77b4"/>
<circle cx="381.9" cy="390.1" r="1.55" fill="#1f77b4"/>
<circle cx="392.2" cy="392.4" r="1.55" fill="#1f77b4"/>
<circle cx="387.9" cy="399.0" r="1.55" fill="#1f77b4"/>
<circle cx="383.9" cy="401.9" r="1.55" fill="#1f77b4"/>
<circle cx="391.6" cy="401.0" r="1.55" fill="#1f77b4"/>
<circle cx="407.1" cy="395.6" r="1.55" fill="#1f77b4"/>
<circle cx="426.5" cy="392.4" r="1.55" fill="#1f77b4"/>
<circle cx="312.9" cy="399.0" r="1.55" fill="#1f77b4"/>
<circle cx="316.9" cy="399.6" r="1.55" fill="#1f77b4"/>
<circle cx="301.2" cy="402.2" r="1.55" fill="#1f77b4"/>
<circle cx="295.2" cy="405.0" r="1.55" fill="#1f77b4"/>
<circle cx="298.6" cy="406.7" r="1.55" fill="#1f77b4"/>
<circle cx="358.4" cy="408.4" r="1.55" fill="#1f77b4"/>
<circle cx="347.0" cy="410.5" r="1.55" fill="#1f77b4"/>
<circle cx="307.8" cy="411.9" r="1.55" fill="#1f77b4"/>
<circle cx="322.9" cy="411.9" r="1.55" fill="#1f77b4"/>
<circle cx="351.8" cy="414.2" r="1.55" fill="#1f77b4"/>
<circle cx="312.9" cy="415.0" r="1.55" fill="#1f77b4"/>
<circle cx="330.7" cy="415.6" r="1.55" fill="#1f77b4"/>
<circle cx="359.9" cy="416.2" r="1.55" fill="#1f77b4"/>
<circle cx="368.4" cy="418.5" r="1.55" fill="#1f77b4"/>
<circle cx="317.8" cy="419.3" r="1.55" fill="#1f77b4"/>
<circle cx="291.5" cy="422.5" r="1.55" fill="#1f77b4"/>
<circle cx="341.5" cy="422.8" r="1.55" fill="#1f77b4"/>
<circle cx="345.3" cy="423.9" r="1.55" fill="#1f77b4"/>
<circle cx="353.3" cy="421.6" r="1.55" fill="#1f77b4"/>
<circle cx="369.6" cy="423.0" r="1.55" fill="#1f77b4"/>
<circle cx="383.6" cy="421.0" r="1.55" fill="#1f77b4"/>
<circle cx="310.4" cy="425.0" r="1.55" fill="#1f77b4"/>
<circle cx="287.2" cy="427.9" r="1.55" fill="#1f77b4"/>
<circle cx="284.9" cy="429.3" r="1.55" fill="#1f77b4"/>
<circle cx="379.9" cy="427.9" r="1.55" fill="#1f77b4"/>
<circle cx="366.2" cy="429.9" r="1.55" fill="#1f77b4"/>
<circle cx="318.4" cy="429.9" r="1.55" fill="#1f77b4"/>
<circle cx="320.4" cy="430.5" r="1.55" fill="#1f77b4"/>
<circle cx="390.2" cy="430.5" r="1.55" fill="#1f77b4"/>
<circle cx="401.3" cy="425.3" r="1.55" fill="#1f77b4"/>
<circle cx="282.6" cy="437.9" r="1.55" fill="#1f77b4"/>
<circle cx="280.0" cy="439.6" r="1.55" fill="#1f77b4"/>
<circle cx="316.9" cy="437.6" r="1.55" fill="#1f77b4"/>
<circle cx="383.6" cy="436.2" r="1.55" fill="#1f77b4"/>
<circle cx="389.6" cy="438.5" r="1.55" fill="#1f77b4"/>
<circle cx="312.4" cy="444.5" r="1.55" fill="#1f77b4"/>
<circle cx="391.9" cy="445.1" r="1.55" fill="#1f77b4"/>
<circle cx="316.7" cy="450.8" r="1.55" fill="#1f77b4"/>
<circle cx="320.7" cy="453.4" r="1.55" fill="#1f77b4"/>
<circle cx="302.3" cy="453.4" r="1.55" fill="#1f77b4"/>
<circle cx="313.2" cy="456.2" r="1.55" fill="#1f77b4"/>
<circle cx="324.4" cy="456.5" r="1.55" fill="#1f77b4"/>
<circle cx="381.6" cy="448.2" r="1.55" fill="#1f77b4"/>
<circle cx="401.3" cy="449.9" r="1.55" fill="#1f77b4"/>
<circle cx="362.1" cy="450.2" r="1.55" fill="#1f77b4"/>
<circle cx="292.9" cy="460.8" r="1.55" fill="#1f77b4"/>
<circle cx="319.8" cy="464.0" r="1.55" fill="#1f77b4"/>
<circle cx="294.6" cy="466.8" r="1.55" fill="#1f77b4"/>
<circle cx="365.0" cy="466.5" r="1.55" fill="#1f77b4"/>
<circle cx="299.8" cy="470.3" r="1.55" fill="#1f77b4"/>
<circle cx="304.1" cy="470.5" r="1.55" fill="#1f77b4"/>
<circle cx="319.8" cy="475.1" r="1.55" fill="#1f77b4"/>
<circle cx="294.3" cy="476.5" r="1.55" fill="#1f77b4"/>
<circle cx="300.3" cy="476.0" r="1.55" fill="#1f77b4"/>
<circle cx="298.9" cy="481.4" r="1.55" fill="#1f77b4"/>
<circle cx="303.8" cy="481.1" r="1.55" fill="#1f77b4"/>
<circle cx="367.9" cy="481.7" r="1.55" fill="#1f77b4"/>
<circle cx="295.8" cy="492.0" r="1.55" fill="#1f77b4"/>
<circle cx="293.2" cy="496.0" r="1.55" fill="#1f77b4"/>
<circle cx="298.9" cy="496.0" r="1.55" fill="#1f77b4"/>
<circle cx="376.7" cy="324.3" r="1.55" fill="#1f77b4"/>
<circle cx="368.7" cy="333.5" r="1.55" fill="#1f77b4"/>
<circle cx="419.4" cy="346.9" r="1.55" fill="#1f77b4"/>
<circle cx="336.1" cy="324.0" r="1.55" fill="#ff7f0e"/>
<circle cx="356.4" cy="322.3" r="1.55" fill="#ff7f0e"/>
<circle cx="327.2" cy="349.2" r="1.55" fill="#ff7f0e"/>
<circle cx="346.7" cy="343.5" r="1.55" fill="#ff7f0e"/>
<circle cx="349.6" cy="342.6" r="1.55" fill="#ff7f0e"/>
<circle cx="345.0" cy="355.5" r="1.55" fill="#ff7f0e"/>
<circle cx="360.7" cy="363.0" r="1.55" fill="#ff7f0e"/>
<circle cx="366.7" cy="365.5" r="1.55" fill="#ff7f0e"/>
<circle cx="373.6" cy="369.0" r="1.55" fill="#ff7f0e"/>
<circle cx="375.0" cy="378.7" r="1.55" fill="#ff7f0e"/>
<circle cx="387.0" cy="374.1" r="1.55" fill="#ff7f0e"/>
<circle cx="391.0" cy="380.7" r="1.55" fill="#ff7f0e"/>
<circle cx="390.5" cy="386.1" r="1.55" fill="#ff7f0e"/>
<circle cx="405.9" cy="381.3" r="1.55" fill="#ff7f0e"/>
<circle cx="409.1" cy="383.0" r="1.55" fill="#ff7f0e"/>
<circle cx="394.5" cy="400.4" r="1.55" fill="#ff7f0e"/>
<circle cx="387.0" cy="407.3" r="1.55" fill="#ff7f0e"/>
<circle cx="392.8" cy="419.3" r="1.55" fill="#ff7f0e"/>
<circle cx="365.0" cy="423.9" r="1.55" fill="#ff7f0e"/>
<circle cx="405.9" cy="417.9" r="1.55" fill="#ff7f0e"/>
<circle cx="407.6" cy="429.1" r="1.55" fill="#ff7f0e"/>
<circle cx="401.1" cy="431.9" r="1.55" fill="#ff7f0e"/>
<circle cx="398.8" cy="437.9" r="1.55" fill="#ff7f0e"/>
<circle cx="365.3" cy="451.1" r="1.55" fill="#ff7f0e"/>
<circle cx="428.5" cy="440.2" r="1.55" fill="#ff7f0e"/>
<circle cx="434.5" cy="364.7" r="1.55" fill="#ff7f0e"/>
<circle cx="441.4" cy="369.2" r="1.55" fill="#ff7f0e"/>
<circle cx="429.1" cy="373.8" r="1.55" fill="#ff7f0e"/>
<circle cx="435.1" cy="374.7" r="1.55" fill="#ff7f0e"/>
<circle cx="440.3" cy="376.1" r="1.55" fill="#ff7f0e"/>
<circle cx="428.0" cy="380.7" r="1.55" fill="#ff7f0e"/>
<circle cx="434.0" cy="379.8" r="1.55" fill="#ff7f0e"/>
<circle cx="440.3" cy="384.4" r="1.55" fill="#ff7f0e"/>
<circle cx="424.0" cy="387.0" r="1.55" fill="#ff7f0e"/>
<circle cx="436.5" cy="387.0" r="1.55" fill="#ff7f0e"/>
<circle cx="432.8" cy="389.9" r="1.55" fill="#ff7f0e"/>
<circle cx="441.7" cy="394.7" r="1.55" fill="#ff7f0e"/>
<circle cx="432.3" cy="397.0" r="1.55" fill="#ff7f0e"/>
<circle cx="438.3" cy="396.7" r="1.55" fill="#ff7f0e"/>
<circle cx="434.8" cy="403.0" r="1.55" fill="#ff7f0e"/>
<circle cx="391.0" cy="325.8" r="1.55" fill="#ff7f0e"/>
<circle cx="375.3" cy="333.5" r="1.55" fill="#ff7f0e"/>
<circle cx="376.2" cy="348.9" r="1.55" fill="#ff7f0e"/>
<circle cx="383.6" cy="348.4" r="1.55" fill="#ff7f0e"/>
<circle cx="379.9" cy="355.2" r="1.55" fill="#ff7f0e"/>
<circle cx="386.5" cy="354.9" r="1.55" fill="#ff7f0e"/>
<circle cx="420.2" cy="353.5" r="1.55" fill="#ff7f0e"/>
</g>
<rect x="367.2" y="311.9" width="77.0" height="51.400000000000034" rx="2" fill="#f0f0f0" fill-opacity="0.8" stroke="#e2e2e2" stroke-opacity="0.8" stroke-width="1"/>
<circle cx="383.1" cy="336.9" r="1.55" fill="#1f77b4" stroke="#fff" stroke-width="0.5"/>
<circle cx="383.1" cy="353.0" r="1.55" fill="#ff7f0e" stroke="#fff" stroke-width="0.5"/>
<text transform="translate(405.90,324.60)" x="-15.03" y="0" textLength="30.05" lengthAdjust="spacingAndGlyphs" font-size="12.76" fill="#262626" stroke="#262626" stroke-width="0.2">Class</text>
<text transform="translate(402.60,340.90)" x="0.00" y="0" textLength="17.26" lengthAdjust="spacingAndGlyphs" font-size="12.76" fill="#262626" stroke="#262626" stroke-width="0.2">DR</text>
<text transform="translate(402.60,357.00)" x="0.00" y="0" textLength="37.18" lengthAdjust="spacingAndGlyphs" font-size="12.76" fill="#262626" stroke="#262626" stroke-width="0.2">No DR</text>
<text transform="translate(298.60,514.50)" x="-11.40" y="0" textLength="22.79" lengthAdjust="spacingAndGlyphs" font-size="12.20" fill="#262626" stroke="#262626" stroke-width="0.15">−10</text>
<text transform="translate(367.30,514.50)" x="-3.44" y="0" textLength="6.87" lengthAdjust="spacingAndGlyphs" font-size="12.20" fill="#262626" stroke="#262626" stroke-width="0.15">0</text>
<text transform="translate(435.70,514.50)" x="-6.87" y="0" textLength="13.74" lengthAdjust="spacingAndGlyphs" font-size="12.20" fill="#262626" stroke="#262626" stroke-width="0.15">10</text>
<text transform="translate(270.20,323.60)" x="-6.87" y="0" textLength="6.87" lengthAdjust="spacingAndGlyphs" font-size="12.20" fill="#262626" stroke="#262626" stroke-width="0.15">6</text>
<text transform="translate(270.20,349.10)" x="-6.87" y="0" textLength="6.87" lengthAdjust="spacingAndGlyphs" font-size="12.20" fill="#262626" stroke="#262626" stroke-width="0.15">4</text>
<text transform="translate(270.20,374.30)" x="-6.87" y="0" textLength="6.87" lengthAdjust="spacingAndGlyphs" font-size="12.20" fill="#262626" stroke="#262626" stroke-width="0.15">2</text>
<text transform="translate(270.20,399.50)" x="-6.87" y="0" textLength="6.87" lengthAdjust="spacingAndGlyphs" font-size="12.20" fill="#262626" stroke="#262626" stroke-width="0.15">0</text>
<text transform="translate(270.20,424.60)" x="-15.92" y="0" textLength="15.92" lengthAdjust="spacingAndGlyphs" font-size="12.20" fill="#262626" stroke="#262626" stroke-width="0.15">−2</text>
<text transform="translate(270.20,450.10)" x="-15.92" y="0" textLength="15.92" lengthAdjust="spacingAndGlyphs" font-size="12.20" fill="#262626" stroke="#262626" stroke-width="0.15">−4</text>
<text transform="translate(270.20,475.30)" x="-15.92" y="0" textLength="15.92" lengthAdjust="spacingAndGlyphs" font-size="12.20" fill="#262626" stroke="#262626" stroke-width="0.15">−6</text>
<text transform="translate(270.20,500.80)" x="-15.92" y="0" textLength="15.92" lengthAdjust="spacingAndGlyphs" font-size="12.20" fill="#262626" stroke="#262626" stroke-width="0.15">−8</text>
<text transform="translate(360.85,528.00)" x="-21.92" y="0" textLength="43.85" lengthAdjust="spacingAndGlyphs" font-size="12.54" fill="#262626" stroke="#262626" stroke-width="0.2">t-SNE-1</text>
<text transform="translate(250.00,405.35) rotate(-90)" x="-21.92" y="0" textLength="43.85" lengthAdjust="spacingAndGlyphs" font-size="12.54" fill="#262626" stroke="#262626" stroke-width="0.2">t-SNE-2</text>
<text transform="translate(360.85,303.60)" x="-30.14" y="0" textLength="60.29" lengthAdjust="spacingAndGlyphs" font-size="12.82" fill="#262626" stroke="#262626" stroke-width="0.2">GAP Layer</text>
<clipPath id="c23"><rect x="504.2" y="307" width="177.00000000000006" height="196.7"/></clipPath>
<line x1="535.50" x2="535.50" y1="307" y2="503.7" stroke="#e0e0e0" stroke-width="1"/>
<line x1="599.50" x2="599.50" y1="307" y2="503.7" stroke="#e0e0e0" stroke-width="1"/>
<line x1="662.50" x2="662.50" y1="307" y2="503.7" stroke="#e0e0e0" stroke-width="1"/>
<line x1="504.2" x2="681.2" y1="312.50" y2="312.50" stroke="#e0e0e0" stroke-width="1"/>
<line x1="504.2" x2="681.2" y1="345.50" y2="345.50" stroke="#e0e0e0" stroke-width="1"/>
<line x1="504.2" x2="681.2" y1="378.50" y2="378.50" stroke="#e0e0e0" stroke-width="1"/>
<line x1="504.2" x2="681.2" y1="410.50" y2="410.50" stroke="#e0e0e0" stroke-width="1"/>
<line x1="504.2" x2="681.2" y1="443.50" y2="443.50" stroke="#e0e0e0" stroke-width="1"/>
<line x1="504.2" x2="681.2" y1="475.50" y2="475.50" stroke="#e0e0e0" stroke-width="1"/>
<g clip-path="url(#c23)" stroke="#fff" stroke-width="0.5">
<circle cx="511.9" cy="316.3" r="1.55" fill="#1f77b4"/>
<circle cx="517.2" cy="315.1" r="1.55" fill="#1f77b4"/>
<circle cx="519.6" cy="316.3" r="1.55" fill="#1f77b4"/>
<circle cx="520.5" cy="319.6" r="1.55" fill="#1f77b4"/>
<circle cx="525.1" cy="322.2" r="1.55" fill="#1f77b4"/>
<circle cx="528.4" cy="322.8" r="1.55" fill="#1f77b4"/>
<circle cx="527.2" cy="326.8" r="1.55" fill="#1f77b4"/>
<circle cx="531.9" cy="326.8" r="1.55" fill="#1f77b4"/>
<circle cx="533.6" cy="330.1" r="1.55" fill="#1f77b4"/>
<circle cx="530.1" cy="332.1" r="1.55" fill="#1f77b4"/>
<circle cx="532.4" cy="334.2" r="1.55" fill="#1f77b4"/>
<circle cx="534.2" cy="335.9" r="1.55" fill="#1f77b4"/>
<circle cx="536.8" cy="333.3" r="1.55" fill="#1f77b4"/>
<circle cx="538.5" cy="335.0" r="1.55" fill="#1f77b4"/>
<circle cx="540.8" cy="337.7" r="1.55" fill="#1f77b4"/>
<circle cx="537.1" cy="338.9" r="1.55" fill="#1f77b4"/>
<circle cx="538.9" cy="340.6" r="1.55" fill="#1f77b4"/>
<circle cx="544.7" cy="341.2" r="1.55" fill="#1f77b4"/>
<circle cx="545.9" cy="342.9" r="1.55" fill="#1f77b4"/>
<circle cx="541.2" cy="343.8" r="1.55" fill="#1f77b4"/>
<circle cx="542.6" cy="346.4" r="1.55" fill="#1f77b4"/>
<circle cx="547.3" cy="345.9" r="1.55" fill="#1f77b4"/>
<circle cx="544.3" cy="348.7" r="1.55" fill="#1f77b4"/>
<circle cx="546.9" cy="350.5" r="1.55" fill="#1f77b4"/>
<circle cx="550.8" cy="350.3" r="1.55" fill="#1f77b4"/>
<circle cx="549.9" cy="352.6" r="1.55" fill="#1f77b4"/>
<circle cx="552.2" cy="353.4" r="1.55" fill="#1f77b4"/>
<circle cx="553.4" cy="355.7" r="1.55" fill="#1f77b4"/>
<circle cx="557.3" cy="360.1" r="1.55" fill="#1f77b4"/>
<circle cx="559.9" cy="363.4" r="1.55" fill="#1f77b4"/>
<circle cx="562.7" cy="366.9" r="1.55" fill="#1f77b4"/>
<circle cx="565.3" cy="369.2" r="1.55" fill="#1f77b4"/>
<circle cx="568.3" cy="369.5" r="1.55" fill="#1f77b4"/>
<circle cx="570.1" cy="370.9" r="1.55" fill="#1f77b4"/>
<circle cx="572.4" cy="372.2" r="1.55" fill="#1f77b4"/>
<circle cx="573.2" cy="374.5" r="1.55" fill="#1f77b4"/>
<circle cx="564.8" cy="372.4" r="1.55" fill="#1f77b4"/>
<circle cx="567.8" cy="378.0" r="1.55" fill="#1f77b4"/>
<circle cx="575.0" cy="378.0" r="1.55" fill="#1f77b4"/>
<circle cx="569.9" cy="381.8" r="1.55" fill="#1f77b4"/>
<circle cx="572.4" cy="384.4" r="1.55" fill="#1f77b4"/>
<circle cx="575.0" cy="382.6" r="1.55" fill="#1f77b4"/>
<circle cx="577.6" cy="385.3" r="1.55" fill="#1f77b4"/>
<circle cx="579.9" cy="387.0" r="1.55" fill="#1f77b4"/>
<circle cx="580.4" cy="389.6" r="1.55" fill="#1f77b4"/>
<circle cx="584.8" cy="394.4" r="1.55" fill="#1f77b4"/>
<circle cx="593.6" cy="405.4" r="1.55" fill="#1f77b4"/>
<circle cx="594.8" cy="406.3" r="1.55" fill="#1f77b4"/>
<circle cx="597.4" cy="405.8" r="1.55" fill="#1f77b4"/>
<circle cx="596.2" cy="411.9" r="1.55" fill="#1f77b4"/>
<circle cx="600.0" cy="411.2" r="1.55" fill="#1f77b4"/>
<circle cx="597.9" cy="413.8" r="1.55" fill="#1f77b4"/>
<circle cx="601.4" cy="413.8" r="1.55" fill="#1f77b4"/>
<circle cx="607.9" cy="421.2" r="1.55" fill="#1f77b4"/>
<circle cx="610.9" cy="424.3" r="1.55" fill="#1f77b4"/>
<circle cx="618.1" cy="428.7" r="1.55" fill="#1f77b4"/>
<circle cx="622.8" cy="432.6" r="1.55" fill="#1f77b4"/>
<circle cx="615.5" cy="434.0" r="1.55" fill="#1f77b4"/>
<circle cx="617.9" cy="437.5" r="1.55" fill="#1f77b4"/>
<circle cx="620.7" cy="441.0" r="1.55" fill="#1f77b4"/>
<circle cx="626.8" cy="443.4" r="1.55" fill="#1f77b4"/>
<circle cx="628.9" cy="445.2" r="1.55" fill="#1f77b4"/>
<circle cx="644.2" cy="462.3" r="1.55" fill="#1f77b4"/>
<circle cx="649.6" cy="466.7" r="1.55" fill="#1f77b4"/>
<circle cx="649.1" cy="469.9" r="1.55" fill="#1f77b4"/>
<circle cx="650.8" cy="472.5" r="1.55" fill="#1f77b4"/>
<circle cx="652.9" cy="476.0" r="1.55" fill="#1f77b4"/>
<circle cx="555.2" cy="357.8" r="1.55" fill="#ff7f0e"/>
<circle cx="582.5" cy="391.7" r="1.55" fill="#ff7f0e"/>
<circle cx="605.6" cy="418.2" r="1.55" fill="#ff7f0e"/>
<circle cx="612.6" cy="426.1" r="1.55" fill="#ff7f0e"/>
<circle cx="615.8" cy="426.8" r="1.55" fill="#ff7f0e"/>
<circle cx="621.1" cy="430.5" r="1.55" fill="#ff7f0e"/>
<circle cx="614.9" cy="430.8" r="1.55" fill="#ff7f0e"/>
<circle cx="624.6" cy="436.4" r="1.55" fill="#ff7f0e"/>
<circle cx="625.1" cy="438.7" r="1.55" fill="#ff7f0e"/>
<circle cx="622.8" cy="442.2" r="1.55" fill="#ff7f0e"/>
<circle cx="631.0" cy="447.1" r="1.55" fill="#ff7f0e"/>
<circle cx="633.8" cy="450.6" r="1.55" fill="#ff7f0e"/>
<circle cx="636.3" cy="453.6" r="1.55" fill="#ff7f0e"/>
<circle cx="639.5" cy="456.7" r="1.55" fill="#ff7f0e"/>
<circle cx="640.9" cy="458.5" r="1.55" fill="#ff7f0e"/>
<circle cx="642.6" cy="460.2" r="1.55" fill="#ff7f0e"/>
<circle cx="646.5" cy="462.7" r="1.55" fill="#ff7f0e"/>
<circle cx="645.2" cy="466.4" r="1.55" fill="#ff7f0e"/>
<circle cx="652.6" cy="469.0" r="1.55" fill="#ff7f0e"/>
<circle cx="654.3" cy="470.7" r="1.55" fill="#ff7f0e"/>
<circle cx="654.9" cy="472.8" r="1.55" fill="#ff7f0e"/>
<circle cx="656.4" cy="476.9" r="1.55" fill="#ff7f0e"/>
<circle cx="660.1" cy="481.3" r="1.55" fill="#ff7f0e"/>
<circle cx="662.6" cy="483.0" r="1.55" fill="#ff7f0e"/>
<circle cx="664.5" cy="486.0" r="1.55" fill="#ff7f0e"/>
<circle cx="668.4" cy="484.2" r="1.55" fill="#ff7f0e"/>
<circle cx="670.6" cy="486.0" r="1.55" fill="#ff7f0e"/>
<circle cx="672.4" cy="489.5" r="1.55" fill="#ff7f0e"/>
<circle cx="672.2" cy="492.1" r="1.55" fill="#ff7f0e"/>
<circle cx="667.5" cy="493.0" r="1.55" fill="#ff7f0e"/>
<circle cx="669.2" cy="495.3" r="1.55" fill="#ff7f0e"/>
<circle cx="673.6" cy="495.6" r="1.55" fill="#ff7f0e"/>
</g>
<rect x="599.4" y="311.9" width="77.0" height="51.400000000000034" rx="2" fill="#f0f0f0" fill-opacity="0.8" stroke="#e2e2e2" stroke-opacity="0.8" stroke-width="1"/>
<circle cx="614.5" cy="336.9" r="1.55" fill="#1f77b4" stroke="#fff" stroke-width="0.5"/>
<circle cx="614.5" cy="353.0" r="1.55" fill="#ff7f0e" stroke="#fff" stroke-width="0.5"/>
<text transform="translate(638.10,324.60)" x="-15.03" y="0" textLength="30.05" lengthAdjust="spacingAndGlyphs" font-size="12.76" fill="#262626" stroke="#262626" stroke-width="0.2">Class</text>
<text transform="translate(634.80,340.90)" x="0.00" y="0" textLength="17.26" lengthAdjust="spacingAndGlyphs" font-size="12.76" fill="#262626" stroke="#262626" stroke-width="0.2">DR</text>
<text transform="translate(634.80,357.00)" x="0.00" y="0" textLength="37.18" lengthAdjust="spacingAndGlyphs" font-size="12.76" fill="#262626" stroke="#262626" stroke-width="0.2">No DR</text>
<text transform="translate(535.40,514.50)" x="-11.40" y="0" textLength="22.79" lengthAdjust="spacingAndGlyphs" font-size="12.20" fill="#262626" stroke="#262626" stroke-width="0.15">−10</text>
<text transform="translate(599.20,514.50)" x="-3.44" y="0" textLength="6.87" lengthAdjust="spacingAndGlyphs" font-size="12.20" fill="#262626" stroke="#262626" stroke-width="0.15">0</text>
<text transform="translate(662.70,514.50)" x="-6.87" y="0" textLength="13.74" lengthAdjust="spacingAndGlyphs" font-size="12.20" fill="#262626" stroke="#262626" stroke-width="0.15">10</text>
<text transform="translate(501.30,316.80)" x="-6.87" y="0" textLength="6.87" lengthAdjust="spacingAndGlyphs" font-size="12.20" fill="#262626" stroke="#262626" stroke-width="0.15">6</text>
<text transform="translate(501.30,349.40)" x="-6.87" y="0" textLength="6.87" lengthAdjust="spacingAndGlyphs" font-size="12.20" fill="#262626" stroke="#262626" stroke-width="0.15">4</text>
<text transform="translate(501.30,382.00)" x="-6.87" y="0" textLength="6.87" lengthAdjust="spacingAndGlyphs" font-size="12.20" fill="#262626" stroke="#262626" stroke-width="0.15">2</text>
<text transform="translate(501.30,414.30)" x="-6.87" y="0" textLength="6.87" lengthAdjust="spacingAndGlyphs" font-size="12.20" fill="#262626" stroke="#262626" stroke-width="0.15">0</text>
<text transform="translate(501.30,447.20)" x="-15.92" y="0" textLength="15.92" lengthAdjust="spacingAndGlyphs" font-size="12.20" fill="#262626" stroke="#262626" stroke-width="0.15">−2</text>
<text transform="translate(501.30,479.60)" x="-15.92" y="0" textLength="15.92" lengthAdjust="spacingAndGlyphs" font-size="12.20" fill="#262626" stroke="#262626" stroke-width="0.15">−4</text>
<text transform="translate(592.70,528.00)" x="-21.92" y="0" textLength="43.85" lengthAdjust="spacingAndGlyphs" font-size="12.54" fill="#262626" stroke="#262626" stroke-width="0.2">t-SNE-1</text>
<text transform="translate(481.60,405.35) rotate(-90)" x="-21.92" y="0" textLength="43.85" lengthAdjust="spacingAndGlyphs" font-size="12.54" fill="#262626" stroke="#262626" stroke-width="0.2">t-SNE-2</text>
<text transform="translate(592.70,303.60)" x="-37.71" y="0" textLength="75.43" lengthAdjust="spacingAndGlyphs" font-size="12.82" fill="#262626" stroke="#262626" stroke-width="0.2">Output Layer</text>
<clipPath id="c31"><rect x="41.2" y="584" width="176.60000000000002" height="196.70000000000005"/></clipPath>
<line x1="72.50" x2="72.50" y1="584" y2="780.7" stroke="#e0e0e0" stroke-width="1"/>
<line x1="113.50" x2="113.50" y1="584" y2="780.7" stroke="#e0e0e0" stroke-width="1"/>
<line x1="153.50" x2="153.50" y1="584" y2="780.7" stroke="#e0e0e0" stroke-width="1"/>
<line x1="194.50" x2="194.50" y1="584" y2="780.7" stroke="#e0e0e0" stroke-width="1"/>
<line x1="41.2" x2="217.8" y1="596.50" y2="596.50" stroke="#e0e0e0" stroke-width="1"/>
<line x1="41.2" x2="217.8" y1="635.50" y2="635.50" stroke="#e0e0e0" stroke-width="1"/>
<line x1="41.2" x2="217.8" y1="673.50" y2="673.50" stroke="#e0e0e0" stroke-width="1"/>
<line x1="41.2" x2="217.8" y1="712.50" y2="712.50" stroke="#e0e0e0" stroke-width="1"/>
<line x1="41.2" x2="217.8" y1="751.50" y2="751.50" stroke="#e0e0e0" stroke-width="1"/>
<g clip-path="url(#c31)" stroke="#fff" stroke-width="0.5">
<circle cx="120.2" cy="608.7" r="1.55" fill="#1f77b4"/>
<circle cx="124.2" cy="619.8" r="1.55" fill="#1f77b4"/>
<circle cx="89.5" cy="637.4" r="1.55" fill="#1f77b4"/>
<circle cx="123.0" cy="635.0" r="1.55" fill="#1f77b4"/>
<circle cx="109.2" cy="650.4" r="1.55" fill="#1f77b4"/>
<circle cx="125.7" cy="650.9" r="1.55" fill="#1f77b4"/>
<circle cx="143.3" cy="648.5" r="1.55" fill="#1f77b4"/>
<circle cx="138.7" cy="652.3" r="1.55" fill="#1f77b4"/>
<circle cx="177.4" cy="648.0" r="1.55" fill="#1f77b4"/>
<circle cx="158.9" cy="655.3" r="1.55" fill="#1f77b4"/>
<circle cx="128.5" cy="661.0" r="1.55" fill="#1f77b4"/>
<circle cx="109.2" cy="666.4" r="1.55" fill="#1f77b4"/>
<circle cx="129.4" cy="668.0" r="1.55" fill="#1f77b4"/>
<circle cx="104.2" cy="674.5" r="1.55" fill="#1f77b4"/>
<circle cx="117.3" cy="678.0" r="1.55" fill="#1f77b4"/>
<circle cx="153.4" cy="666.6" r="1.55" fill="#1f77b4"/>
<circle cx="167.6" cy="663.1" r="1.55" fill="#1f77b4"/>
<circle cx="173.4" cy="663.1" r="1.55" fill="#1f77b4"/>
<circle cx="178.3" cy="659.3" r="1.55" fill="#1f77b4"/>
<circle cx="170.2" cy="668.8" r="1.55" fill="#1f77b4"/>
<circle cx="179.2" cy="667.7" r="1.55" fill="#1f77b4"/>
<circle cx="153.1" cy="678.3" r="1.55" fill="#1f77b4"/>
<circle cx="164.1" cy="675.6" r="1.55" fill="#1f77b4"/>
<circle cx="161.8" cy="685.6" r="1.55" fill="#1f77b4"/>
<circle cx="155.7" cy="689.6" r="1.55" fill="#1f77b4"/>
<circle cx="174.8" cy="687.8" r="1.55" fill="#1f77b4"/>
<circle cx="79.6" cy="682.6" r="1.55" fill="#1f77b4"/>
<circle cx="94.7" cy="686.4" r="1.55" fill="#1f77b4"/>
<circle cx="66.3" cy="688.6" r="1.55" fill="#1f77b4"/>
<circle cx="136.1" cy="687.8" r="1.55" fill="#1f77b4"/>
<circle cx="121.0" cy="691.3" r="1.55" fill="#1f77b4"/>
<circle cx="102.8" cy="692.9" r="1.55" fill="#1f77b4"/>
<circle cx="142.7" cy="697.8" r="1.55" fill="#1f77b4"/>
<circle cx="105.4" cy="698.8" r="1.55" fill="#1f77b4"/>
<circle cx="98.7" cy="703.2" r="1.55" fill="#1f77b4"/>
<circle cx="61.7" cy="702.4" r="1.55" fill="#1f77b4"/>
<circle cx="75.9" cy="702.1" r="1.55" fill="#1f77b4"/>
<circle cx="68.9" cy="705.3" r="1.55" fill="#1f77b4"/>
<circle cx="63.2" cy="708.0" r="1.55" fill="#1f77b4"/>
<circle cx="70.7" cy="708.9" r="1.55" fill="#1f77b4"/>
<circle cx="80.5" cy="706.7" r="1.55" fill="#1f77b4"/>
<circle cx="57.4" cy="713.5" r="1.55" fill="#1f77b4"/>
<circle cx="75.0" cy="713.2" r="1.55" fill="#1f77b4"/>
<circle cx="92.4" cy="712.4" r="1.55" fill="#1f77b4"/>
<circle cx="110.0" cy="712.4" r="1.55" fill="#1f77b4"/>
<circle cx="93.2" cy="714.5" r="1.55" fill="#1f77b4"/>
<circle cx="94.1" cy="718.1" r="1.55" fill="#1f77b4"/>
<circle cx="71.0" cy="719.4" r="1.55" fill="#1f77b4"/>
<circle cx="82.3" cy="719.4" r="1.55" fill="#1f77b4"/>
<circle cx="54.8" cy="722.4" r="1.55" fill="#1f77b4"/>
<circle cx="93.0" cy="722.7" r="1.55" fill="#1f77b4"/>
<circle cx="108.0" cy="721.6" r="1.55" fill="#1f77b4"/>
<circle cx="113.5" cy="723.2" r="1.55" fill="#1f77b4"/>
<circle cx="123.6" cy="722.4" r="1.55" fill="#1f77b4"/>
<circle cx="120.2" cy="727.0" r="1.55" fill="#1f77b4"/>
<circle cx="106.0" cy="728.1" r="1.55" fill="#1f77b4"/>
<circle cx="70.1" cy="728.9" r="1.55" fill="#1f77b4"/>
<circle cx="52.7" cy="731.9" r="1.55" fill="#1f77b4"/>
<circle cx="92.4" cy="733.2" r="1.55" fill="#1f77b4"/>
<circle cx="112.1" cy="731.3" r="1.55" fill="#1f77b4"/>
<circle cx="123.9" cy="732.9" r="1.55" fill="#1f77b4"/>
<circle cx="109.2" cy="734.8" r="1.55" fill="#1f77b4"/>
<circle cx="117.3" cy="740.0" r="1.55" fill="#1f77b4"/>
<circle cx="104.8" cy="741.3" r="1.55" fill="#1f77b4"/>
<circle cx="73.9" cy="745.4" r="1.55" fill="#1f77b4"/>
<circle cx="94.1" cy="747.3" r="1.55" fill="#1f77b4"/>
<circle cx="112.1" cy="750.3" r="1.55" fill="#1f77b4"/>
<circle cx="75.9" cy="757.8" r="1.55" fill="#1f77b4"/>
<circle cx="82.3" cy="764.1" r="1.55" fill="#1f77b4"/>
<circle cx="87.2" cy="763.5" r="1.55" fill="#1f77b4"/>
<circle cx="85.1" cy="765.4" r="1.55" fill="#1f77b4"/>
<circle cx="88.0" cy="772.7" r="1.55" fill="#1f77b4"/>
<circle cx="165.2" cy="592.3" r="1.55" fill="#1f77b4"/>
<circle cx="180.0" cy="599.2" r="1.55" fill="#1f77b4"/>
<circle cx="163.7" cy="604.5" r="1.55" fill="#1f77b4"/>
<circle cx="142.9" cy="607.1" r="1.55" fill="#1f77b4"/>
<circle cx="193.5" cy="604.8" r="1.55" fill="#1f77b4"/>
<circle cx="139.9" cy="617.1" r="1.55" fill="#1f77b4"/>
<circle cx="134.0" cy="623.4" r="1.55" fill="#1f77b4"/>
<circle cx="148.9" cy="620.0" r="1.55" fill="#1f77b4"/>
<circle cx="159.1" cy="622.1" r="1.55" fill="#1f77b4"/>
<circle cx="176.9" cy="623.4" r="1.55" fill="#1f77b4"/>
<circle cx="183.3" cy="624.4" r="1.55" fill="#1f77b4"/>
<circle cx="169.1" cy="627.3" r="1.55" fill="#1f77b4"/>
<circle cx="134.8" cy="629.4" r="1.55" fill="#1f77b4"/>
<circle cx="141.1" cy="628.7" r="1.55" fill="#1f77b4"/>
<circle cx="210.1" cy="627.0" r="1.55" fill="#1f77b4"/>
<circle cx="156.4" cy="642.0" r="1.55" fill="#1f77b4"/>
<circle cx="179.2" cy="636.6" r="1.55" fill="#1f77b4"/>
<circle cx="116.4" cy="620.6" r="1.55" fill="#ff7f0e"/>
<circle cx="132.6" cy="658.5" r="1.55" fill="#ff7f0e"/>
<circle cx="117.0" cy="667.5" r="1.55" fill="#ff7f0e"/>
<circle cx="116.4" cy="670.4" r="1.55" fill="#ff7f0e"/>
<circle cx="110.6" cy="676.4" r="1.55" fill="#ff7f0e"/>
<circle cx="91.2" cy="686.9" r="1.55" fill="#ff7f0e"/>
<circle cx="78.8" cy="695.6" r="1.55" fill="#ff7f0e"/>
<circle cx="114.1" cy="696.1" r="1.55" fill="#ff7f0e"/>
<circle cx="48.7" cy="704.5" r="1.55" fill="#ff7f0e"/>
<circle cx="129.4" cy="709.9" r="1.55" fill="#ff7f0e"/>
<circle cx="131.4" cy="709.4" r="1.55" fill="#ff7f0e"/>
<circle cx="172.5" cy="711.8" r="1.55" fill="#ff7f0e"/>
<circle cx="115.2" cy="730.0" r="1.55" fill="#ff7f0e"/>
<circle cx="86.9" cy="732.4" r="1.55" fill="#ff7f0e"/>
<circle cx="53.6" cy="737.8" r="1.55" fill="#ff7f0e"/>
<circle cx="170.5" cy="655.5" r="1.55" fill="#ff7f0e"/>
<circle cx="167.3" cy="661.2" r="1.55" fill="#ff7f0e"/>
<circle cx="188.7" cy="652.3" r="1.55" fill="#ff7f0e"/>
<circle cx="190.8" cy="655.0" r="1.55" fill="#ff7f0e"/>
<circle cx="199.4" cy="651.2" r="1.55" fill="#ff7f0e"/>
<circle cx="191.9" cy="665.8" r="1.55" fill="#ff7f0e"/>
<circle cx="158.3" cy="667.2" r="1.55" fill="#ff7f0e"/>
<circle cx="174.0" cy="676.1" r="1.55" fill="#ff7f0e"/>
<circle cx="179.5" cy="679.4" r="1.55" fill="#ff7f0e"/>
<circle cx="160.1" cy="680.7" r="1.55" fill="#ff7f0e"/>
<circle cx="143.5" cy="600.8" r="1.55" fill="#ff7f0e"/>
<circle cx="131.9" cy="608.2" r="1.55" fill="#ff7f0e"/>
<circle cx="134.3" cy="617.1" r="1.55" fill="#ff7f0e"/>
<circle cx="135.7" cy="619.7" r="1.55" fill="#ff7f0e"/>
<circle cx="143.9" cy="621.5" r="1.55" fill="#ff7f0e"/>
<circle cx="145.6" cy="623.3" r="1.55" fill="#ff7f0e"/>
<circle cx="127.2" cy="628.3" r="1.55" fill="#ff7f0e"/>
<circle cx="163.0" cy="633.0" r="1.55" fill="#ff7f0e"/>
<circle cx="173.0" cy="637.0" r="1.55" fill="#ff7f0e"/>
<circle cx="176.5" cy="608.2" r="1.55" fill="#ff7f0e"/>
<circle cx="185.0" cy="605.4" r="1.55" fill="#ff7f0e"/>
<circle cx="185.7" cy="612.2" r="1.55" fill="#ff7f0e"/>
<circle cx="191.0" cy="613.8" r="1.55" fill="#ff7f0e"/>
<circle cx="189.0" cy="616.7" r="1.55" fill="#ff7f0e"/>
<circle cx="197.1" cy="617.5" r="1.55" fill="#ff7f0e"/>
<circle cx="204.6" cy="606.5" r="1.55" fill="#ff7f0e"/>
<circle cx="194.2" cy="638.0" r="1.55" fill="#ff7f0e"/>
<circle cx="198.5" cy="638.0" r="1.55" fill="#ff7f0e"/>
<circle cx="210.5" cy="638.9" r="1.55" fill="#ff7f0e"/>
<circle cx="170.7" cy="618.0" r="1.55" fill="#ff7f0e"/>
<circle cx="172.1" cy="612.8" r="1.55" fill="#ff7f0e"/>
</g>
<rect x="136.0" y="588.9" width="77.0" height="51.39999999999998" rx="2" fill="#f0f0f0" fill-opacity="0.8" stroke="#e2e2e2" stroke-opacity="0.8" stroke-width="1"/>
<circle cx="151.4" cy="613.9" r="1.55" fill="#1f77b4" stroke="#fff" stroke-width="0.5"/>
<circle cx="151.4" cy="630.0" r="1.55" fill="#ff7f0e" stroke="#fff" stroke-width="0.5"/>
<text transform="translate(174.70,601.60)" x="-15.03" y="0" textLength="30.05" lengthAdjust="spacingAndGlyphs" font-size="12.76" fill="#262626" stroke="#262626" stroke-width="0.2">Class</text>
<text transform="translate(171.40,617.90)" x="0.00" y="0" textLength="17.26" lengthAdjust="spacingAndGlyphs" font-size="12.76" fill="#262626" stroke="#262626" stroke-width="0.2">DR</text>
<text transform="translate(171.40,634.00)" x="0.00" y="0" textLength="37.18" lengthAdjust="spacingAndGlyphs" font-size="12.76" fill="#262626" stroke="#262626" stroke-width="0.2">No DR</text>
<text transform="translate(72.60,791.50)" x="-7.96" y="0" textLength="15.92" lengthAdjust="spacingAndGlyphs" font-size="12.20" fill="#262626" stroke="#262626" stroke-width="0.15">−5</text>
<text transform="translate(113.25,791.50)" x="-3.44" y="0" textLength="6.87" lengthAdjust="spacingAndGlyphs" font-size="12.20" fill="#262626" stroke="#262626" stroke-width="0.15">0</text>
<text transform="translate(153.90,791.50)" x="-3.44" y="0" textLength="6.87" lengthAdjust="spacingAndGlyphs" font-size="12.20" fill="#262626" stroke="#262626" stroke-width="0.15">5</text>
<text transform="translate(194.55,791.50)" x="-6.87" y="0" textLength="13.74" lengthAdjust="spacingAndGlyphs" font-size="12.20" fill="#262626" stroke="#262626" stroke-width="0.15">10</text>
<text transform="translate(38.70,600.20)" x="-13.74" y="0" textLength="13.74" lengthAdjust="spacingAndGlyphs" font-size="12.20" fill="#262626" stroke="#262626" stroke-width="0.15">10</text>
<text transform="translate(38.70,639.00)" x="-6.87" y="0" textLength="6.87" lengthAdjust="spacingAndGlyphs" font-size="12.20" fill="#262626" stroke="#262626" stroke-width="0.15">5</text>
<text transform="translate(38.70,677.75)" x="-6.87" y="0" textLength="6.87" lengthAdjust="spacingAndGlyphs" font-size="12.20" fill="#262626" stroke="#262626" stroke-width="0.15">0</text>
<text transform="translate(38.70,716.50)" x="-15.92" y="0" textLength="15.92" lengthAdjust="spacingAndGlyphs" font-size="12.20" fill="#262626" stroke="#262626" stroke-width="0.15">−5</text>
<text transform="translate(38.70,755.30)" x="-22.79" y="0" textLength="22.79" lengthAdjust="spacingAndGlyphs" font-size="12.20" fill="#262626" stroke="#262626" stroke-width="0.15">−10</text>
<text transform="translate(129.50,805.00)" x="-21.92" y="0" textLength="43.85" lengthAdjust="spacingAndGlyphs" font-size="12.54" fill="#262626" stroke="#262626" stroke-width="0.2">t-SNE-1</text>
<text transform="translate(11.00,682.35) rotate(-90)" x="-21.92" y="0" textLength="43.85" lengthAdjust="spacingAndGlyphs" font-size="12.54" fill="#262626" stroke="#262626" stroke-width="0.2">t-SNE-2</text>
<text transform="translate(129.50,580.60)" x="-26.82" y="0" textLength="53.63" lengthAdjust="spacingAndGlyphs" font-size="12.82" fill="#262626" stroke="#262626" stroke-width="0.2">Test Data</text>
<clipPath id="c32"><rect x="272.7" y="584" width="176.3" height="196.70000000000005"/></clipPath>
<line x1="303.50" x2="303.50" y1="584" y2="780.7" stroke="#e0e0e0" stroke-width="1"/>
<line x1="364.50" x2="364.50" y1="584" y2="780.7" stroke="#e0e0e0" stroke-width="1"/>
<line x1="425.50" x2="425.50" y1="584" y2="780.7" stroke="#e0e0e0" stroke-width="1"/>
<line x1="272.7" x2="449.0" y1="594.50" y2="594.50" stroke="#e0e0e0" stroke-width="1"/>
<line x1="272.7" x2="449.0" y1="628.50" y2="628.50" stroke="#e0e0e0" stroke-width="1"/>
<line x1="272.7" x2="449.0" y1="662.50" y2="662.50" stroke="#e0e0e0" stroke-width="1"/>
<line x1="272.7" x2="449.0" y1="695.50" y2="695.50" stroke="#e0e0e0" stroke-width="1"/>
<line x1="272.7" x2="449.0" y1="729.50" y2="729.50" stroke="#e0e0e0" stroke-width="1"/>
<line x1="272.7" x2="449.0" y1="763.50" y2="763.50" stroke="#e0e0e0" stroke-width="1"/>
<g clip-path="url(#c32)" stroke="#fff" stroke-width="0.5">
<circle cx="363.9" cy="635.4" r="1.55" fill="#1f77b4"/>
<circle cx="383.6" cy="642.5" r="1.55" fill="#1f77b4"/>
<circle cx="400.8" cy="642.5" r="1.55" fill="#1f77b4"/>
<circle cx="407.6" cy="644.0" r="1.55" fill="#1f77b4"/>
<circle cx="420.8" cy="642.2" r="1.55" fill="#1f77b4"/>
<circle cx="418.8" cy="649.7" r="1.55" fill="#1f77b4"/>
<circle cx="423.1" cy="649.4" r="1.55" fill="#1f77b4"/>
<circle cx="432.5" cy="647.4" r="1.55" fill="#1f77b4"/>
<circle cx="429.4" cy="652.3" r="1.55" fill="#1f77b4"/>
<circle cx="425.4" cy="653.4" r="1.55" fill="#1f77b4"/>
<circle cx="369.3" cy="648.8" r="1.55" fill="#1f77b4"/>
<circle cx="372.4" cy="653.1" r="1.55" fill="#1f77b4"/>
<circle cx="391.6" cy="653.7" r="1.55" fill="#1f77b4"/>
<circle cx="402.2" cy="651.1" r="1.55" fill="#1f77b4"/>
<circle cx="401.3" cy="656.6" r="1.55" fill="#1f77b4"/>
<circle cx="410.2" cy="655.1" r="1.55" fill="#1f77b4"/>
<circle cx="408.8" cy="656.6" r="1.55" fill="#1f77b4"/>
<circle cx="355.0" cy="655.4" r="1.55" fill="#1f77b4"/>
<circle cx="351.3" cy="658.3" r="1.55" fill="#1f77b4"/>
<circle cx="369.0" cy="658.6" r="1.55" fill="#1f77b4"/>
<circle cx="372.7" cy="661.7" r="1.55" fill="#1f77b4"/>
<circle cx="383.0" cy="658.8" r="1.55" fill="#1f77b4"/>
<circle cx="387.9" cy="660.8" r="1.55" fill="#1f77b4"/>
<circle cx="414.2" cy="663.1" r="1.55" fill="#1f77b4"/>
<circle cx="323.5" cy="666.6" r="1.55" fill="#1f77b4"/>
<circle cx="325.5" cy="667.4" r="1.55" fill="#1f77b4"/>
<circle cx="353.0" cy="666.6" r="1.55" fill="#1f77b4"/>
<circle cx="365.0" cy="667.1" r="1.55" fill="#1f77b4"/>
<circle cx="374.2" cy="666.0" r="1.55" fill="#1f77b4"/>
<circle cx="385.3" cy="668.9" r="1.55" fill="#1f77b4"/>
<circle cx="395.1" cy="666.0" r="1.55" fill="#1f77b4"/>
<circle cx="355.3" cy="671.7" r="1.55" fill="#1f77b4"/>
<circle cx="365.3" cy="672.0" r="1.55" fill="#1f77b4"/>
<circle cx="369.6" cy="672.3" r="1.55" fill="#1f77b4"/>
<circle cx="379.9" cy="673.7" r="1.55" fill="#1f77b4"/>
<circle cx="396.8" cy="673.4" r="1.55" fill="#1f77b4"/>
<circle cx="357.6" cy="678.9" r="1.55" fill="#1f77b4"/>
<circle cx="373.0" cy="677.7" r="1.55" fill="#1f77b4"/>
<circle cx="393.9" cy="682.3" r="1.55" fill="#1f77b4"/>
<circle cx="372.2" cy="685.2" r="1.55" fill="#1f77b4"/>
<circle cx="375.0" cy="688.0" r="1.55" fill="#1f77b4"/>
<circle cx="359.0" cy="687.5" r="1.55" fill="#1f77b4"/>
<circle cx="351.8" cy="691.5" r="1.55" fill="#1f77b4"/>
<circle cx="360.7" cy="695.5" r="1.55" fill="#1f77b4"/>
<circle cx="372.2" cy="698.9" r="1.55" fill="#1f77b4"/>
<circle cx="380.2" cy="697.2" r="1.55" fill="#1f77b4"/>
<circle cx="409.4" cy="698.9" r="1.55" fill="#1f77b4"/>
<circle cx="369.0" cy="703.5" r="1.55" fill="#1f77b4"/>
<circle cx="307.5" cy="711.5" r="1.55" fill="#1f77b4"/>
<circle cx="330.7" cy="711.8" r="1.55" fill="#1f77b4"/>
<circle cx="296.9" cy="716.4" r="1.55" fill="#1f77b4"/>
<circle cx="296.6" cy="718.9" r="1.55" fill="#1f77b4"/>
<circle cx="280.0" cy="723.5" r="1.55" fill="#1f77b4"/>
<circle cx="285.5" cy="725.8" r="1.55" fill="#1f77b4"/>
<circle cx="386.2" cy="722.1" r="1.55" fill="#1f77b4"/>
<circle cx="417.7" cy="720.4" r="1.55" fill="#1f77b4"/>
<circle cx="317.5" cy="726.7" r="1.55" fill="#1f77b4"/>
<circle cx="339.5" cy="726.7" r="1.55" fill="#1f77b4"/>
<circle cx="327.2" cy="730.7" r="1.55" fill="#1f77b4"/>
<circle cx="321.5" cy="744.1" r="1.55" fill="#1f77b4"/>
<circle cx="321.8" cy="752.4" r="1.55" fill="#1f77b4"/>
<circle cx="304.6" cy="753.0" r="1.55" fill="#1f77b4"/>
<circle cx="314.4" cy="754.4" r="1.55" fill="#1f77b4"/>
<circle cx="340.1" cy="756.1" r="1.55" fill="#1f77b4"/>
<circle cx="331.8" cy="759.0" r="1.55" fill="#1f77b4"/>
<circle cx="349.3" cy="759.8" r="1.55" fill="#1f77b4"/>
<circle cx="366.2" cy="758.7" r="1.55" fill="#1f77b4"/>
<circle cx="340.4" cy="762.4" r="1.55" fill="#1f77b4"/>
<circle cx="317.8" cy="770.1" r="1.55" fill="#1f77b4"/>
<circle cx="441.7" cy="592.2" r="1.55" fill="#1f77b4"/>
<circle cx="435.1" cy="593.0" r="1.55" fill="#1f77b4"/>
<circle cx="432.3" cy="594.2" r="1.55" fill="#1f77b4"/>
<circle cx="436.8" cy="597.9" r="1.55" fill="#1f77b4"/>
<circle cx="429.4" cy="598.8" r="1.55" fill="#1f77b4"/>
<circle cx="426.8" cy="600.8" r="1.55" fill="#1f77b4"/>
<circle cx="426.5" cy="603.6" r="1.55" fill="#1f77b4"/>
<circle cx="434.0" cy="603.6" r="1.55" fill="#1f77b4"/>
<circle cx="425.4" cy="606.8" r="1.55" fill="#1f77b4"/>
<circle cx="423.1" cy="610.5" r="1.55" fill="#1f77b4"/>
<circle cx="432.3" cy="610.5" r="1.55" fill="#1f77b4"/>
<circle cx="426.5" cy="613.9" r="1.55" fill="#1f77b4"/>
<circle cx="414.5" cy="616.8" r="1.55" fill="#1f77b4"/>
<circle cx="413.7" cy="618.8" r="1.55" fill="#1f77b4"/>
<circle cx="438.8" cy="620.5" r="1.55" fill="#1f77b4"/>
<circle cx="435.7" cy="621.6" r="1.55" fill="#1f77b4"/>
<circle cx="397.9" cy="623.9" r="1.55" fill="#1f77b4"/>
<circle cx="414.5" cy="633.7" r="1.55" fill="#1f77b4"/>
<circle cx="398.2" cy="636.8" r="1.55" fill="#1f77b4"/>
<circle cx="410.8" cy="638.2" r="1.55" fill="#1f77b4"/>
<circle cx="333.8" cy="677.2" r="1.55" fill="#ff7f0e"/>
<circle cx="335.8" cy="676.9" r="1.55" fill="#ff7f0e"/>
<circle cx="421.4" cy="670.0" r="1.55" fill="#ff7f0e"/>
<circle cx="377.6" cy="704.0" r="1.55" fill="#ff7f0e"/>
<circle cx="356.7" cy="713.2" r="1.55" fill="#ff7f0e"/>
<circle cx="376.5" cy="714.6" r="1.55" fill="#ff7f0e"/>
<circle cx="318.1" cy="718.4" r="1.55" fill="#ff7f0e"/>
<circle cx="330.1" cy="718.9" r="1.55" fill="#ff7f0e"/>
<circle cx="356.4" cy="719.8" r="1.55" fill="#ff7f0e"/>
<circle cx="361.6" cy="720.9" r="1.55" fill="#ff7f0e"/>
<circle cx="348.1" cy="721.2" r="1.55" fill="#ff7f0e"/>
<circle cx="382.2" cy="722.4" r="1.55" fill="#ff7f0e"/>
<circle cx="349.6" cy="726.4" r="1.55" fill="#ff7f0e"/>
<circle cx="392.8" cy="726.1" r="1.55" fill="#ff7f0e"/>
<circle cx="409.4" cy="726.7" r="1.55" fill="#ff7f0e"/>
<circle cx="296.6" cy="730.7" r="1.55" fill="#ff7f0e"/>
<circle cx="310.1" cy="732.9" r="1.55" fill="#ff7f0e"/>
<circle cx="346.7" cy="733.2" r="1.55" fill="#ff7f0e"/>
<circle cx="352.1" cy="732.7" r="1.55" fill="#ff7f0e"/>
<circle cx="371.0" cy="731.8" r="1.55" fill="#ff7f0e"/>
<circle cx="331.5" cy="736.1" r="1.55" fill="#ff7f0e"/>
<circle cx="339.8" cy="734.7" r="1.55" fill="#ff7f0e"/>
<circle cx="359.6" cy="735.5" r="1.55" fill="#ff7f0e"/>
<circle cx="364.7" cy="735.5" r="1.55" fill="#ff7f0e"/>
<circle cx="404.2" cy="736.1" r="1.55" fill="#ff7f0e"/>
<circle cx="306.6" cy="740.4" r="1.55" fill="#ff7f0e"/>
<circle cx="314.4" cy="738.4" r="1.55" fill="#ff7f0e"/>
<circle cx="320.7" cy="737.8" r="1.55" fill="#ff7f0e"/>
<circle cx="347.6" cy="738.1" r="1.55" fill="#ff7f0e"/>
<circle cx="382.2" cy="737.8" r="1.55" fill="#ff7f0e"/>
<circle cx="397.9" cy="737.5" r="1.55" fill="#ff7f0e"/>
<circle cx="329.2" cy="742.4" r="1.55" fill="#ff7f0e"/>
<circle cx="345.8" cy="742.7" r="1.55" fill="#ff7f0e"/>
<circle cx="359.0" cy="742.1" r="1.55" fill="#ff7f0e"/>
<circle cx="369.3" cy="742.7" r="1.55" fill="#ff7f0e"/>
<circle cx="387.3" cy="741.8" r="1.55" fill="#ff7f0e"/>
<circle cx="315.2" cy="744.4" r="1.55" fill="#ff7f0e"/>
<circle cx="351.6" cy="747.0" r="1.55" fill="#ff7f0e"/>
<circle cx="343.8" cy="748.7" r="1.55" fill="#ff7f0e"/>
<circle cx="300.1" cy="751.5" r="1.55" fill="#ff7f0e"/>
<circle cx="306.9" cy="751.0" r="1.55" fill="#ff7f0e"/>
<circle cx="333.8" cy="751.0" r="1.55" fill="#ff7f0e"/>
<circle cx="359.3" cy="751.3" r="1.55" fill="#ff7f0e"/>
<circle cx="364.2" cy="758.1" r="1.55" fill="#ff7f0e"/>
<circle cx="294.0" cy="763.3" r="1.55" fill="#ff7f0e"/>
<circle cx="313.8" cy="763.0" r="1.55" fill="#ff7f0e"/>
<circle cx="349.0" cy="765.6" r="1.55" fill="#ff7f0e"/>
<circle cx="331.5" cy="767.9" r="1.55" fill="#ff7f0e"/>
<circle cx="318.9" cy="773.0" r="1.55" fill="#ff7f0e"/>
</g>
<rect x="367.2" y="588.9" width="77.0" height="51.39999999999998" rx="2" fill="#f0f0f0" fill-opacity="0.8" stroke="#e2e2e2" stroke-opacity="0.8" stroke-width="1"/>
<circle cx="383.1" cy="613.9" r="1.55" fill="#1f77b4" stroke="#fff" stroke-width="0.5"/>
<circle cx="383.1" cy="630.0" r="1.55" fill="#ff7f0e" stroke="#fff" stroke-width="0.5"/>
<text transform="translate(405.90,601.60)" x="-15.03" y="0" textLength="30.05" lengthAdjust="spacingAndGlyphs" font-size="12.76" fill="#262626" stroke="#262626" stroke-width="0.2">Class</text>
<text transform="translate(402.60,617.90)" x="0.00" y="0" textLength="17.26" lengthAdjust="spacingAndGlyphs" font-size="12.76" fill="#262626" stroke="#262626" stroke-width="0.2">DR</text>
<text transform="translate(402.60,634.00)" x="0.00" y="0" textLength="37.18" lengthAdjust="spacingAndGlyphs" font-size="12.76" fill="#262626" stroke="#262626" stroke-width="0.2">No DR</text>
<text transform="translate(303.20,791.50)" x="-7.96" y="0" textLength="15.92" lengthAdjust="spacingAndGlyphs" font-size="12.20" fill="#262626" stroke="#262626" stroke-width="0.15">−5</text>
<text transform="translate(364.40,791.50)" x="-3.44" y="0" textLength="6.87" lengthAdjust="spacingAndGlyphs" font-size="12.20" fill="#262626" stroke="#262626" stroke-width="0.15">0</text>
<text transform="translate(425.70,791.50)" x="-3.44" y="0" textLength="6.87" lengthAdjust="spacingAndGlyphs" font-size="12.20" fill="#262626" stroke="#262626" stroke-width="0.15">5</text>
<text transform="translate(270.20,598.40)" x="-13.74" y="0" textLength="13.74" lengthAdjust="spacingAndGlyphs" font-size="12.20" fill="#262626" stroke="#262626" stroke-width="0.15">15</text>
<text transform="translate(270.20,632.10)" x="-13.74" y="0" textLength="13.74" lengthAdjust="spacingAndGlyphs" font-size="12.20" fill="#262626" stroke="#262626" stroke-width="0.15">10</text>
<text transform="translate(270.20,665.90)" x="-6.87" y="0" textLength="6.87" lengthAdjust="spacingAndGlyphs" font-size="12.20" fill="#262626" stroke="#262626" stroke-width="0.15">5</text>
<text transform="translate(270.20,699.60)" x="-6.87" y="0" textLength="6.87" lengthAdjust="spacingAndGlyphs" font-size="12.20" fill="#262626" stroke="#262626" stroke-width="0.15">0</text>
<text transform="translate(270.20,733.40)" x="-15.92" y="0" textLength="15.92" lengthAdjust="spacingAndGlyphs" font-size="12.20" fill="#262626" stroke="#262626" stroke-width="0.15">−5</text>
<text transform="translate(270.20,767.20)" x="-22.79" y="0" textLength="22.79" lengthAdjust="spacingAndGlyphs" font-size="12.20" fill="#262626" stroke="#262626" stroke-width="0.15">−10</text>
<text transform="translate(360.85,805.00)" x="-21.92" y="0" textLength="43.85" lengthAdjust="spacingAndGlyphs" font-size="12.54" fill="#262626" stroke="#262626" stroke-width="0.2">t-SNE-1</text>
<text transform="translate(242.20,682.35) rotate(-90)" x="-21.92" y="0" textLength="43.85" lengthAdjust="spacingAndGlyphs" font-size="12.54" fill="#262626" stroke="#262626" stroke-width="0.2">t-SNE-2</text>
<text transform="translate(360.85,580.60)" x="-30.14" y="0" textLength="60.29" lengthAdjust="spacingAndGlyphs" font-size="12.82" fill="#262626" stroke="#262626" stroke-width="0.2">GAP Layer</text>
<clipPath id="c33"><rect x="504.2" y="584" width="177.00000000000006" height="196.70000000000005"/></clipPath>
<line x1="533.50" x2="533.50" y1="584" y2="780.7" stroke="#e0e0e0" stroke-width="1"/>
<line x1="590.50" x2="590.50" y1="584" y2="780.7" stroke="#e0e0e0" stroke-width="1"/>
<line x1="647.50" x2="647.50" y1="584" y2="780.7" stroke="#e0e0e0" stroke-width="1"/>
<line x1="504.2" x2="681.2" y1="601.50" y2="601.50" stroke="#e0e0e0" stroke-width="1"/>
<line x1="504.2" x2="681.2" y1="626.50" y2="626.50" stroke="#e0e0e0" stroke-width="1"/>
<line x1="504.2" x2="681.2" y1="651.50" y2="651.50" stroke="#e0e0e0" stroke-width="1"/>
<line x1="504.2" x2="681.2" y1="676.50" y2="676.50" stroke="#e0e0e0" stroke-width="1"/>
<line x1="504.2" x2="681.2" y1="701.50" y2="701.50" stroke="#e0e0e0" stroke-width="1"/>
<line x1="504.2" x2="681.2" y1="726.50" y2="726.50" stroke="#e0e0e0" stroke-width="1"/>
<line x1="504.2" x2="681.2" y1="751.50" y2="751.50" stroke="#e0e0e0" stroke-width="1"/>
<line x1="504.2" x2="681.2" y1="776.50" y2="776.50" stroke="#e0e0e0" stroke-width="1"/>
<g clip-path="url(#c33)" stroke="#fff" stroke-width="0.5">
<circle cx="547.8" cy="651.8" r="1.55" fill="#1f77b4"/>
<circle cx="550.5" cy="654.4" r="1.55" fill="#1f77b4"/>
<circle cx="556.1" cy="662.1" r="1.55" fill="#1f77b4"/>
<circle cx="558.2" cy="664.6" r="1.55" fill="#1f77b4"/>
<circle cx="561.8" cy="665.1" r="1.55" fill="#1f77b4"/>
<circle cx="563.9" cy="664.1" r="1.55" fill="#1f77b4"/>
<circle cx="561.0" cy="668.4" r="1.55" fill="#1f77b4"/>
<circle cx="565.5" cy="672.8" r="1.55" fill="#1f77b4"/>
<circle cx="570.6" cy="679.6" r="1.55" fill="#1f77b4"/>
<circle cx="576.4" cy="686.8" r="1.55" fill="#1f77b4"/>
<circle cx="582.0" cy="693.3" r="1.55" fill="#1f77b4"/>
<circle cx="584.8" cy="696.8" r="1.55" fill="#1f77b4"/>
<circle cx="589.5" cy="702.4" r="1.55" fill="#1f77b4"/>
<circle cx="593.0" cy="707.3" r="1.55" fill="#1f77b4"/>
<circle cx="594.8" cy="711.7" r="1.55" fill="#1f77b4"/>
<circle cx="597.1" cy="698.2" r="1.55" fill="#1f77b4"/>
<circle cx="598.6" cy="695.4" r="1.55" fill="#1f77b4"/>
<circle cx="601.3" cy="702.6" r="1.55" fill="#1f77b4"/>
<circle cx="604.1" cy="713.1" r="1.55" fill="#1f77b4"/>
<circle cx="605.3" cy="719.0" r="1.55" fill="#1f77b4"/>
<circle cx="603.2" cy="722.2" r="1.55" fill="#1f77b4"/>
<circle cx="603.2" cy="724.8" r="1.55" fill="#1f77b4"/>
<circle cx="607.0" cy="721.0" r="1.55" fill="#1f77b4"/>
<circle cx="608.8" cy="722.2" r="1.55" fill="#1f77b4"/>
<circle cx="610.9" cy="724.3" r="1.55" fill="#1f77b4"/>
<circle cx="597.1" cy="725.7" r="1.55" fill="#1f77b4"/>
<circle cx="597.9" cy="728.8" r="1.55" fill="#1f77b4"/>
<circle cx="599.7" cy="728.0" r="1.55" fill="#1f77b4"/>
<circle cx="614.6" cy="727.4" r="1.55" fill="#1f77b4"/>
<circle cx="617.0" cy="724.8" r="1.55" fill="#1f77b4"/>
<circle cx="616.2" cy="729.2" r="1.55" fill="#1f77b4"/>
<circle cx="619.3" cy="736.7" r="1.55" fill="#1f77b4"/>
<circle cx="619.3" cy="716.1" r="1.55" fill="#1f77b4"/>
<circle cx="621.1" cy="714.8" r="1.55" fill="#1f77b4"/>
<circle cx="622.5" cy="717.8" r="1.55" fill="#1f77b4"/>
<circle cx="624.9" cy="721.0" r="1.55" fill="#1f77b4"/>
<circle cx="625.8" cy="722.5" r="1.55" fill="#1f77b4"/>
<circle cx="629.5" cy="728.0" r="1.55" fill="#1f77b4"/>
<circle cx="630.7" cy="732.2" r="1.55" fill="#1f77b4"/>
<circle cx="633.3" cy="736.2" r="1.55" fill="#1f77b4"/>
<circle cx="636.3" cy="734.5" r="1.55" fill="#1f77b4"/>
<circle cx="638.6" cy="736.6" r="1.55" fill="#1f77b4"/>
<circle cx="619.3" cy="745.3" r="1.55" fill="#1f77b4"/>
<circle cx="621.4" cy="747.1" r="1.55" fill="#1f77b4"/>
<circle cx="623.3" cy="749.0" r="1.55" fill="#1f77b4"/>
<circle cx="625.4" cy="750.7" r="1.55" fill="#1f77b4"/>
<circle cx="626.3" cy="749.3" r="1.55" fill="#1f77b4"/>
<circle cx="628.9" cy="747.6" r="1.55" fill="#1f77b4"/>
<circle cx="633.3" cy="749.3" r="1.55" fill="#1f77b4"/>
<circle cx="635.1" cy="746.7" r="1.55" fill="#1f77b4"/>
<circle cx="636.8" cy="753.7" r="1.55" fill="#1f77b4"/>
<circle cx="639.1" cy="744.4" r="1.55" fill="#1f77b4"/>
<circle cx="640.0" cy="748.5" r="1.55" fill="#1f77b4"/>
<circle cx="642.1" cy="749.0" r="1.55" fill="#1f77b4"/>
<circle cx="645.6" cy="750.7" r="1.55" fill="#1f77b4"/>
<circle cx="647.3" cy="752.0" r="1.55" fill="#1f77b4"/>
<circle cx="650.0" cy="753.7" r="1.55" fill="#1f77b4"/>
<circle cx="651.7" cy="754.9" r="1.55" fill="#1f77b4"/>
<circle cx="654.3" cy="756.4" r="1.55" fill="#1f77b4"/>
<circle cx="656.4" cy="758.6" r="1.55" fill="#1f77b4"/>
<circle cx="658.7" cy="759.3" r="1.55" fill="#1f77b4"/>
<circle cx="660.8" cy="752.0" r="1.55" fill="#1f77b4"/>
<circle cx="662.2" cy="751.1" r="1.55" fill="#1f77b4"/>
<circle cx="664.0" cy="754.9" r="1.55" fill="#1f77b4"/>
<circle cx="660.1" cy="766.9" r="1.55" fill="#1f77b4"/>
<circle cx="661.4" cy="771.8" r="1.55" fill="#1f77b4"/>
<circle cx="662.8" cy="773.0" r="1.55" fill="#1f77b4"/>
<circle cx="664.0" cy="771.2" r="1.55" fill="#1f77b4"/>
<circle cx="665.2" cy="766.5" r="1.55" fill="#1f77b4"/>
<circle cx="667.5" cy="765.1" r="1.55" fill="#1f77b4"/>
<circle cx="669.2" cy="766.3" r="1.55" fill="#1f77b4"/>
<circle cx="671.9" cy="767.7" r="1.55" fill="#1f77b4"/>
<circle cx="674.0" cy="768.6" r="1.55" fill="#1f77b4"/>
<circle cx="514.0" cy="593.1" r="1.55" fill="#ff7f0e"/>
<circle cx="515.8" cy="591.9" r="1.55" fill="#ff7f0e"/>
<circle cx="511.7" cy="600.8" r="1.55" fill="#ff7f0e"/>
<circle cx="519.3" cy="601.2" r="1.55" fill="#ff7f0e"/>
<circle cx="521.4" cy="603.3" r="1.55" fill="#ff7f0e"/>
<circle cx="524.2" cy="604.7" r="1.55" fill="#ff7f0e"/>
<circle cx="526.3" cy="605.9" r="1.55" fill="#ff7f0e"/>
<circle cx="528.6" cy="611.2" r="1.55" fill="#ff7f0e"/>
<circle cx="529.8" cy="614.7" r="1.55" fill="#ff7f0e"/>
<circle cx="531.0" cy="616.8" r="1.55" fill="#ff7f0e"/>
<circle cx="533.3" cy="619.6" r="1.55" fill="#ff7f0e"/>
<circle cx="535.4" cy="623.1" r="1.55" fill="#ff7f0e"/>
<circle cx="536.8" cy="626.9" r="1.55" fill="#ff7f0e"/>
<circle cx="540.3" cy="628.3" r="1.55" fill="#ff7f0e"/>
<circle cx="542.4" cy="629.6" r="1.55" fill="#ff7f0e"/>
<circle cx="543.3" cy="632.2" r="1.55" fill="#ff7f0e"/>
<circle cx="545.0" cy="640.9" r="1.55" fill="#ff7f0e"/>
<circle cx="513.1" cy="614.3" r="1.55" fill="#ff7f0e"/>
<circle cx="515.2" cy="618.2" r="1.55" fill="#ff7f0e"/>
<circle cx="518.4" cy="621.7" r="1.55" fill="#ff7f0e"/>
<circle cx="520.1" cy="623.9" r="1.55" fill="#ff7f0e"/>
<circle cx="522.2" cy="627.8" r="1.55" fill="#ff7f0e"/>
<circle cx="523.6" cy="631.0" r="1.55" fill="#ff7f0e"/>
<circle cx="526.3" cy="631.0" r="1.55" fill="#ff7f0e"/>
<circle cx="528.0" cy="635.3" r="1.55" fill="#ff7f0e"/>
<circle cx="529.4" cy="637.4" r="1.55" fill="#ff7f0e"/>
<circle cx="531.9" cy="640.1" r="1.55" fill="#ff7f0e"/>
<circle cx="532.9" cy="642.2" r="1.55" fill="#ff7f0e"/>
<circle cx="535.6" cy="647.1" r="1.55" fill="#ff7f0e"/>
<circle cx="539.8" cy="647.4" r="1.55" fill="#ff7f0e"/>
<circle cx="540.8" cy="652.9" r="1.55" fill="#ff7f0e"/>
<circle cx="542.9" cy="655.0" r="1.55" fill="#ff7f0e"/>
<circle cx="545.0" cy="650.9" r="1.55" fill="#ff7f0e"/>
<circle cx="554.3" cy="659.3" r="1.55" fill="#ff7f0e"/>
<circle cx="564.8" cy="676.0" r="1.55" fill="#ff7f0e"/>
<circle cx="562.7" cy="678.6" r="1.55" fill="#ff7f0e"/>
<circle cx="566.2" cy="675.4" r="1.55" fill="#ff7f0e"/>
<circle cx="578.1" cy="688.9" r="1.55" fill="#ff7f0e"/>
<circle cx="579.9" cy="691.0" r="1.55" fill="#ff7f0e"/>
</g>
<rect x="599.4" y="588.9" width="77.0" height="51.39999999999998" rx="2" fill="#f0f0f0" fill-opacity="0.8" stroke="#e2e2e2" stroke-opacity="0.8" stroke-width="1"/>
<circle cx="614.5" cy="613.9" r="1.55" fill="#1f77b4" stroke="#fff" stroke-width="0.5"/>
<circle cx="614.5" cy="630.0" r="1.55" fill="#ff7f0e" stroke="#fff" stroke-width="0.5"/>
<text transform="translate(638.10,601.60)" x="-15.03" y="0" textLength="30.05" lengthAdjust="spacingAndGlyphs" font-size="12.76" fill="#262626" stroke="#262626" stroke-width="0.2">Class</text>
<text transform="translate(634.80,617.90)" x="0.00" y="0" textLength="17.26" lengthAdjust="spacingAndGlyphs" font-size="12.76" fill="#262626" stroke="#262626" stroke-width="0.2">DR</text>
<text transform="translate(634.80,634.00)" x="0.00" y="0" textLength="37.18" lengthAdjust="spacingAndGlyphs" font-size="12.76" fill="#262626" stroke="#262626" stroke-width="0.2">No DR</text>
<text transform="translate(533.30,791.50)" x="-11.40" y="0" textLength="22.79" lengthAdjust="spacingAndGlyphs" font-size="12.20" fill="#262626" stroke="#262626" stroke-width="0.15">−10</text>
<text transform="translate(590.30,791.50)" x="-3.44" y="0" textLength="6.87" lengthAdjust="spacingAndGlyphs" font-size="12.20" fill="#262626" stroke="#262626" stroke-width="0.15">0</text>
<text transform="translate(647.20,791.50)" x="-6.87" y="0" textLength="13.74" lengthAdjust="spacingAndGlyphs" font-size="12.20" fill="#262626" stroke="#262626" stroke-width="0.15">10</text>
<text transform="translate(501.30,605.20)" x="-17.18" y="0" textLength="17.18" lengthAdjust="spacingAndGlyphs" font-size="12.20" fill="#262626" stroke="#262626" stroke-width="0.15">2.0</text>
<text transform="translate(501.30,630.10)" x="-17.18" y="0" textLength="17.18" lengthAdjust="spacingAndGlyphs" font-size="12.20" fill="#262626" stroke="#262626" stroke-width="0.15">1.5</text>
<text transform="translate(501.30,655.30)" x="-17.18" y="0" textLength="17.18" lengthAdjust="spacingAndGlyphs" font-size="12.20" fill="#262626" stroke="#262626" stroke-width="0.15">1.0</text>
<text transform="translate(501.30,680.20)" x="-17.18" y="0" textLength="17.18" lengthAdjust="spacingAndGlyphs" font-size="12.20" fill="#262626" stroke="#262626" stroke-width="0.15">0.5</text>
<text transform="translate(501.30,705.40)" x="-17.18" y="0" textLength="17.18" lengthAdjust="spacingAndGlyphs" font-size="12.20" fill="#262626" stroke="#262626" stroke-width="0.15">0.0</text>
<text transform="translate(501.30,730.30)" x="-26.23" y="0" textLength="26.23" lengthAdjust="spacingAndGlyphs" font-size="12.20" fill="#262626" stroke="#262626" stroke-width="0.15">−0.5</text>
<text transform="translate(501.30,755.40)" x="-26.23" y="0" textLength="26.23" lengthAdjust="spacingAndGlyphs" font-size="12.20" fill="#262626" stroke="#262626" stroke-width="0.15">−1.0</text>
<text transform="translate(501.30,780.60)" x="-26.23" y="0" textLength="26.23" lengthAdjust="spacingAndGlyphs" font-size="12.20" fill="#262626" stroke="#262626" stroke-width="0.15">−1.5</text>
<text transform="translate(592.70,805.00)" x="-21.92" y="0" textLength="43.85" lengthAdjust="spacingAndGlyphs" font-size="12.54" fill="#262626" stroke="#262626" stroke-width="0.2">t-SNE-1</text>
<text transform="translate(471.00,682.35) rotate(-90)" x="-21.92" y="0" textLength="43.85" lengthAdjust="spacingAndGlyphs" font-size="12.54" fill="#262626" stroke="#262626" stroke-width="0.2">t-SNE-2</text>
<text transform="translate(592.70,580.60)" x="-37.71" y="0" textLength="75.43" lengthAdjust="spacingAndGlyphs" font-size="12.82" fill="#262626" stroke="#262626" stroke-width="0.2">Output Layer</text>
<text transform="translate(342.4,276.9) scale(0.942,1)" font-size="14.6" text-anchor="middle" fill="#1a1a1a">(i)</text>
<text transform="translate(342.4,553.9) scale(0.942,1)" font-size="14.6" text-anchor="middle" fill="#1a1a1a">(ii)</text>
<text transform="translate(342.4,830.9) scale(0.942,1)" font-size="14.6" text-anchor="middle" fill="#1a1a1a">(iii)</text>
</svg>
</body></html>
